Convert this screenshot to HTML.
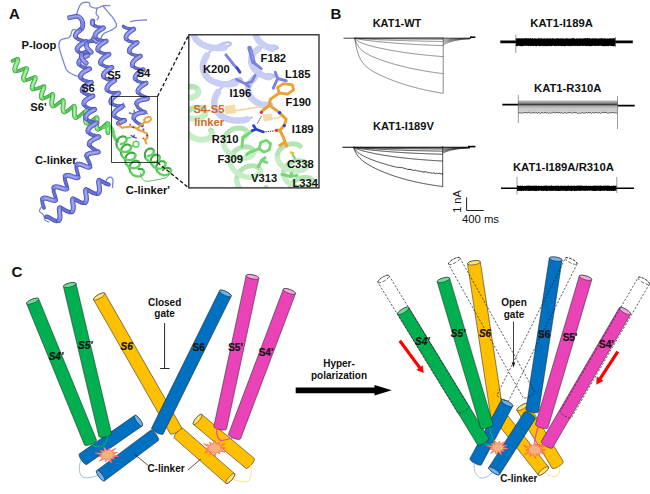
<!DOCTYPE html>
<html><head><meta charset="utf-8"><title>figure</title>
<style>html,body{margin:0;padding:0;background:#fff;}svg{display:block;}</style></head><body>
<svg width="650" height="494" viewBox="0 0 650 494">
<rect x="0" y="0" width="650" height="494" fill="#fff"/>
<!-- PANEL A -->
<g id="panelA">
<text x="8.9" y="19.4" font-size="15" font-weight="bold" text-anchor="start" fill="#111" style="font-family:'Liberation Sans',sans-serif;">A</text>
<g fill="none" stroke-linecap="round" stroke-linejoin="round">
<path d="M12.33,60.84 L14.2,60.09 L15.81,59.5 L17,59.25 L17.67,59.46 L17.67,59.46 M15.25,70.76 L16.3,71.11 L17.81,70.97 L19.63,70.44 L21.56,69.72 L23.38,68.99 L24.9,68.46 L25.96,68.31 L26.49,68.65 L26.49,68.65 M24.28,79.95 L25.45,80.16 L27.04,79.89 L28.91,79.3 L30.83,78.55 L32.6,77.87 L34.03,77.44 L34.97,77.43 L35.23,77.6 M32.69,88.88 L33.74,89.25 L35.26,89.12 L37.09,88.61 L39.02,87.88 L40.84,87.15 L42.35,86.61 L43.4,86.44 L43.92,86.76 L43.92,86.76 M42.15,98.16 L43.38,98.31 L44.99,97.94 L46.81,97.16 L48.63,96.18 L50.27,95.23 L51.57,94.55 L52.43,94.32 L52.7,94.42 M52.91,105.95 L54.06,106.01 L55.49,105.45 L57.09,104.42 L58.72,103.15 L60.23,101.89 L61.5,100.91 L62.45,100.43 L63.05,100.58 L63.05,100.58 M64.43,112.02 L65.64,111.87 L67.1,111.14 L68.69,109.98 L70.26,108.64 L71.69,107.39 L72.86,106.49 L73.72,106.13 L74.02,106.2 M75.71,117.61 L76.81,117.56 L78.17,116.89 L79.68,115.76 L81.24,114.41 L82.7,113.09 L83.95,112.08 L84.92,111.59 L85.55,111.74 L85.55,111.74 M86.96,123.19 L88.14,123.05 L89.59,122.33 L91.2,121.22 L92.82,119.94 L94.31,118.77 L95.54,117.94 L96.43,117.64 L96.73,117.72 M97.8,129.25 L98.93,129.26 L100.33,128.65 L101.89,127.57 L103.48,126.26 L104.96,124.97 L106.22,123.96 L107.16,123.46 L107.76,123.6 L107.76,123.6" stroke="#3fa33f" stroke-width="3.6"/>
<path d="M12.33,60.84 L14.2,60.09 L15.81,59.5 L17,59.25 L17.67,59.46 L17.67,59.46 M15.25,70.76 L16.3,71.11 L17.81,70.97 L19.63,70.44 L21.56,69.72 L23.38,68.99 L24.9,68.46 L25.96,68.31 L26.49,68.65 L26.49,68.65 M24.28,79.95 L25.45,80.16 L27.04,79.89 L28.91,79.3 L30.83,78.55 L32.6,77.87 L34.03,77.44 L34.97,77.43 L35.23,77.6 M32.69,88.88 L33.74,89.25 L35.26,89.12 L37.09,88.61 L39.02,87.88 L40.84,87.15 L42.35,86.61 L43.4,86.44 L43.92,86.76 L43.92,86.76 M42.15,98.16 L43.38,98.31 L44.99,97.94 L46.81,97.16 L48.63,96.18 L50.27,95.23 L51.57,94.55 L52.43,94.32 L52.7,94.42 M52.91,105.95 L54.06,106.01 L55.49,105.45 L57.09,104.42 L58.72,103.15 L60.23,101.89 L61.5,100.91 L62.45,100.43 L63.05,100.58 L63.05,100.58 M64.43,112.02 L65.64,111.87 L67.1,111.14 L68.69,109.98 L70.26,108.64 L71.69,107.39 L72.86,106.49 L73.72,106.13 L74.02,106.2 M75.71,117.61 L76.81,117.56 L78.17,116.89 L79.68,115.76 L81.24,114.41 L82.7,113.09 L83.95,112.08 L84.92,111.59 L85.55,111.74 L85.55,111.74 M86.96,123.19 L88.14,123.05 L89.59,122.33 L91.2,121.22 L92.82,119.94 L94.31,118.77 L95.54,117.94 L96.43,117.64 L96.73,117.72 M97.8,129.25 L98.93,129.26 L100.33,128.65 L101.89,127.57 L103.48,126.26 L104.96,124.97 L106.22,123.96 L107.16,123.46 L107.76,123.6 L107.76,123.6" stroke="#5cc85c" stroke-width="1.98"/>
<path d="M17.67,59.46 L17.79,60.2 L17.44,61.44 L16.76,63.07 L15.94,64.93 L15.2,66.82 L14.75,68.53 L14.73,69.89 L15.25,70.76 L15.25,70.76 M26.49,68.65 L26.49,69.51 L26.05,70.86 L25.32,72.57 L24.51,74.47 L23.84,76.33 L23.49,77.97 L23.62,79.22 L24.28,79.95 L24.28,79.95 M35.23,77.6 L35.35,78.35 L34.99,79.58 L34.29,81.21 L33.45,83.06 L32.68,84.94 L32.21,86.64 L32.18,88 L32.69,88.88 L32.69,88.88 M43.92,86.76 L43.92,87.61 L43.49,88.96 L42.79,90.68 L42.05,92.6 L41.45,94.5 L41.2,96.17 L41.41,97.44 L42.15,98.16 L42.15,98.16 M52.7,94.42 L52.9,95.09 L52.76,96.35 L52.42,98.07 L52.03,100.07 L51.76,102.09 L51.77,103.88 L52.14,105.22 L52.91,105.95 L52.91,105.95 M63.05,100.58 L63.32,101.4 L63.33,102.82 L63.18,104.68 L63.01,106.73 L62.94,108.71 L63.09,110.36 L63.57,111.51 L64.43,112.02 L64.43,112.02 M74.02,106.2 L74.38,106.84 L74.47,108.12 L74.4,109.88 L74.29,111.91 L74.27,113.94 L74.45,115.71 L74.92,116.98 L75.71,117.61 L75.71,117.61 M85.55,111.74 L85.86,112.58 L85.9,114 L85.76,115.86 L85.58,117.91 L85.51,119.89 L85.66,121.55 L86.13,122.69 L86.96,123.19 L86.96,123.19 M96.73,117.72 L97.06,118.39 L97.08,119.68 L96.9,121.44 L96.66,123.46 L96.52,125.48 L96.6,127.26 L97.02,128.57 L97.8,129.25 L97.8,129.25 M107.76,123.6 L108.05,124.42 L108.08,125.84 L107.97,127.69 L107.85,129.74 L107.84,131.73 L107.92,132.61" stroke="#3fa33f" stroke-width="4.8"/>
<path d="M17.67,59.46 L17.79,60.2 L17.44,61.44 L16.76,63.07 L15.94,64.93 L15.2,66.82 L14.75,68.53 L14.73,69.89 L15.25,70.76 L15.25,70.76 M26.49,68.65 L26.49,69.51 L26.05,70.86 L25.32,72.57 L24.51,74.47 L23.84,76.33 L23.49,77.97 L23.62,79.22 L24.28,79.95 L24.28,79.95 M35.23,77.6 L35.35,78.35 L34.99,79.58 L34.29,81.21 L33.45,83.06 L32.68,84.94 L32.21,86.64 L32.18,88 L32.69,88.88 L32.69,88.88 M43.92,86.76 L43.92,87.61 L43.49,88.96 L42.79,90.68 L42.05,92.6 L41.45,94.5 L41.2,96.17 L41.41,97.44 L42.15,98.16 L42.15,98.16 M52.7,94.42 L52.9,95.09 L52.76,96.35 L52.42,98.07 L52.03,100.07 L51.76,102.09 L51.77,103.88 L52.14,105.22 L52.91,105.95 L52.91,105.95 M63.05,100.58 L63.32,101.4 L63.33,102.82 L63.18,104.68 L63.01,106.73 L62.94,108.71 L63.09,110.36 L63.57,111.51 L64.43,112.02 L64.43,112.02 M74.02,106.2 L74.38,106.84 L74.47,108.12 L74.4,109.88 L74.29,111.91 L74.27,113.94 L74.45,115.71 L74.92,116.98 L75.71,117.61 L75.71,117.61 M85.55,111.74 L85.86,112.58 L85.9,114 L85.76,115.86 L85.58,117.91 L85.51,119.89 L85.66,121.55 L86.13,122.69 L86.96,123.19 L86.96,123.19 M96.73,117.72 L97.06,118.39 L97.08,119.68 L96.9,121.44 L96.66,123.46 L96.52,125.48 L96.6,127.26 L97.02,128.57 L97.8,129.25 L97.8,129.25 M107.76,123.6 L108.05,124.42 L108.08,125.84 L107.97,127.69 L107.85,129.74 L107.84,131.73 L107.92,132.61" stroke="#7ade7a" stroke-width="3.26"/>
<path d="M17.67,60.76 L17.13,62.22 L16.36,63.99 L15.55,65.89 L14.93,67.71 L14.68,69.26 L14.68,69.26 M26.31,70.13 L25.71,71.68 L24.91,73.51 L24.15,75.42 L23.61,77.19 L23.49,78.65 L23.49,78.65 M35.22,78.91 L34.67,80.35 L33.87,82.12 L33.04,84.01 L32.4,85.82 L32.13,87.38 L32.13,87.38 M43.74,88.23 L43.16,89.78 L42.41,91.63 L41.72,93.57 L41.27,95.38 L41.24,96.87 L41.24,96.87 M52.87,95.65 L52.61,97.16 L52.21,99.05 L51.87,101.09 L51.73,103.03 L51.91,104.62 L51.91,104.62 M63.36,102.05 L63.27,103.71 L63.09,105.69 L62.95,107.74 L62.98,109.59 L63.29,111.01 L63.29,111.01 M74.45,107.41 L74.45,108.95 L74.34,110.88 L74.26,112.95 L74.33,114.87 L74.64,116.41 L74.64,116.41 M85.91,113.22 L85.84,114.89 L85.67,116.88 L85.53,118.92 L85.55,120.77 L85.85,122.19 L85.85,122.19 M97.11,118.97 L97.01,120.51 L96.78,122.43 L96.57,124.49 L96.52,126.42 L96.76,127.98 L96.76,127.98 M108.05,124.42 L108.08,125.84 L107.97,127.69 L107.85,129.74 L107.83,130.76" stroke="#aef2ae" stroke-width="1.44"/>
</g>
<path d="M104,127.5 L104.88,127.02 L105.74,126.51 L106.62,126.04 L107.54,125.65 L108.52,125.45 L109.47,125.7 L110.26,126.31 L110.92,127.06 L111.48,127.88 L111.98,128.75 L112.43,129.64 L112.82,130.57 L113.07,131.53 L113.25,132.52 L113.39,133.51 L113.54,134.49 L113.72,135.48 L113.99,136.44 L114.38,137.36 L114.89,138.22 L115.47,139.03 L116.1,139.81 L116.75,140.57 L117.42,141.32" fill="none" stroke="#66d466" stroke-width="3.4" stroke-linecap="round" stroke-linejoin="round"/>
<path d="M78.3,30.8 L77.35,30.51 L76.4,30.17 L75.45,29.88 L74.47,29.69 L73.47,29.69 L72.58,30.11 L72.01,30.92 L71.65,31.86 L71.37,32.81 L71.1,33.78 L70.81,34.74 L70.45,35.67 L69.97,36.54 L69.3,37.28 L68.44,37.78 L67.49,38.11 L66.52,38.33 L65.54,38.51 L64.55,38.67 L63.56,38.85 L62.59,39.09 L61.67,39.47 L60.87,40.06 L60.18,40.79 L59.64,41.63 L59.26,42.55 L59.03,43.52 L58.92,44.52 L58.91,45.52 L58.99,46.51 L59.15,47.5 L59.37,48.47 L59.62,49.44 L59.89,50.4 L60.18,51.36 L60.48,52.32 L60.77,53.27 L61.07,54.23 L61.35,55.19 L61.64,56.14 L61.93,57.1 L62.23,58.05 L62.54,59.01 L62.85,59.96 L63.17,60.9 L63.5,61.85 L63.84,62.79 L64.18,63.73 L64.54,64.66 L64.9,65.6 L65.21,66.55 L65.51,67.5 L65.83,68.45 L66.24,69.36 L66.78,70.2 L67.43,70.96 L68.18,71.62 L68.99,72.21 L69.82,72.76 L70.68,73.27 L71.55,73.76 L72.44,74.22 L73.34,74.66 L74.25,75.07 L75.18,75.45 L76.12,75.78 L77.09,76.03 L78.08,76.1 L79.02,75.77 L79.8,75.15 L80.43,74.38 L80.99,73.55" fill="none" stroke="#7a83de" stroke-width="1.3" stroke-linecap="round" stroke-linejoin="round"/>
<path d="M76.7,16.2 L76.78,15.2 L76.85,14.21 L76.98,13.22 L77.2,12.24 L77.5,11.29 L77.85,10.35 L78.2,9.41 L78.56,8.48 L78.94,7.56 L79.35,6.64 L79.8,5.75 L80.31,4.89 L80.9,4.09 L81.62,3.39 L82.48,2.89 L83.43,2.57 L84.41,2.37 L85.4,2.26 L86.4,2.24 L87.4,2.3 L88.39,2.46 L89.3,2.84 L89.69,3.74 L89.77,4.73 L89.93,5.72 L90.51,6.51 L91.39,6.99 L92.32,7.35 L93.27,7.65 L94.25,7.87 L95.24,8.03 L96.23,8.11 L97.23,8.08 L98.21,7.86 L99.14,7.5 L100.04,7.08 L100.94,6.63 L101.84,6.2 L102.78,5.85 L103.75,5.64 L104.75,5.55 L105.75,5.52 L106.75,5.54 L107.75,5.58 L108.75,5.64 L109.75,5.69" fill="none" stroke="#7a83de" stroke-width="1.3" stroke-linecap="round" stroke-linejoin="round"/>
<path d="M97,8.1 L96.8,9.08 L96.59,10.06 L96.4,11.04 L96.24,12.03 L96.15,13.02 L96.25,14.01 L96.75,14.87 L97.46,15.58 L98.19,16.26 L98.61,17.14 L98.32,18.09 L97.79,18.93 L97.18,19.73" fill="none" stroke="#7a83de" stroke-width="1.3" stroke-linecap="round" stroke-linejoin="round"/>
<path d="M103.4,6.5 L104.04,7.27 L104.69,8.03 L105.33,8.8 L105.97,9.56 L106.62,10.33 L107.25,11.1 L107.89,11.87 L108.53,12.64 L109.19,13.39 L109.84,14.15 L110.5,14.9 L111.15,15.66 L111.8,16.42 L112.43,17.2 L113.04,17.99 L113.62,18.81 L114.15,19.65 L114.66,20.51 L115.15,21.38 L115.61,22.27 L116.02,23.19 L116.32,24.14 L116.47,25.12 L116.34,26.11 L115.86,26.98 L115.15,27.69 L114.35,28.28 L113.5,28.81 L112.64,29.32 L111.78,29.83 L110.92,30.33 L110.01,30.76 L109.09,31.15 L108.16,31.52 L107.24,31.89 L106.31,32.28 L105.41,32.7 L104.53,33.18 L103.7,33.74 L102.99,34.44 L102.4,35.24 L101.91,36.11 L101.49,37.02 L101.12,37.95 L100.79,38.9 L100.46,39.84" fill="none" stroke="#7a83de" stroke-width="1.3" stroke-linecap="round" stroke-linejoin="round"/>
<path d="M67.5,18 L77,16.2 C82,17.5 84,23 82,28.5 L79,30.5" fill="none" stroke="#4d56b6" stroke-width="4.8" stroke-linecap="butt" stroke-linejoin="round"/>
<path d="M67.8,18 L77,16.2 C82,17.5 84,23 82,28.5 L79.3,30.3" fill="none" stroke="#7c85e2" stroke-width="3.1" stroke-linecap="butt" stroke-linejoin="round"/>
<path d="M69,17.4 L77,15.9 C80,16.3 82,18.5 82.8,21.5" fill="none" stroke="#9ea6f3" stroke-width="1.2" stroke-linecap="round"/>
<g fill="none" stroke-linecap="round" stroke-linejoin="round">
<path d="M75.51,36.31 L76.15,37.58 L77.37,38.69 L79.03,39.6 L80.91,40.29 L82.78,40.78 L84.41,41.09 L85.59,41.31 L86.17,41.51 L86.22,41.62 M77.16,49.74 L77.72,51.03 L78.87,52.16 L80.49,53.1 L82.35,53.81 L84.24,54.32 L85.91,54.66 L87.16,54.88 L87.82,55.08 L87.91,55.19 M78.98,63.83 L79.77,65.07 L81.12,66.13 L82.85,66.99 L84.76,67.62 L86.59,68.06 L88.13,68.35 L89.17,68.55 L89.59,68.75 L89.55,68.88 M80.61,77.26 L81.33,78.52 L82.61,79.61 L84.31,80.49 L86.21,81.15 L88.07,81.61 L89.65,81.91 L90.76,82.12 L91.26,82.32 L91.27,82.44 M82.24,90.68 L82.87,91.95 L84.09,93.07 L85.75,93.98 L87.63,94.68 L89.5,95.17 L91.13,95.49 L92.31,95.71 L92.89,95.9 L92.94,96.01 M83.88,104.14 L84.45,105.44 L85.61,106.57 L87.23,107.5 L89.11,108.2 L91,108.69 L92.68,109.01 L93.92,109.21 L94.59,109.39 L94.68,109.49 M85.98,118.35 L86.81,119.57 L88.2,120.58 L89.97,121.37 L91.89,121.94 L93.74,122.31 L95.29,122.53 L96.33,122.7 L96.76,122.88 L96.73,123.01 M88.08,131.68 L88.82,132.9 L90.13,133.95 L91.83,134.79 L93.73,135.42 L95.59,135.87 L97.16,136.18 L98.27,136.43 L98.77,136.68 L98.78,136.82 M89.25,144.3 L89.68,145.51 L90.65,146.69 L92.02,147.85 L93.63,148.96 L95.25,149.97 L96.68,150.79 L97.72,151.39 L98.2,151.78 L98.21,151.91 M86.62,155.45 L86.61,156.5 L86.99,157.77 L87.67,159.22 L88.48,160.79 L89.25,162.38 L89.86,163.9 L90.19,165.22 L90.18,166.26 L89.78,166.96 L89.78,166.96 M77.04,164.71 L76.5,165.56 L76.29,166.75 L76.38,168.2 L76.69,169.84 L77.16,171.54 L77.67,173.18 L78.1,174.68 L78.35,175.94 L78.34,176.89 L78.01,177.5 L78.01,177.5 M65.27,176.09 L64.83,176.95 L64.72,178.13 L64.9,179.56 L65.3,181.16 L65.83,182.83 L66.37,184.46 L66.83,185.96 L67.09,187.22 L67.08,188.18 L66.75,188.8 L66.75,188.8 M54,187.43 L53.55,188.28 L53.44,189.45 L53.62,190.88 L54.01,192.49 L54.53,194.16 L55.07,195.8 L55.52,197.29 L55.78,198.55 L55.77,199.52 L55.43,200.14 L55.43,200.14 M42.69,198.74 L42.24,199.6 L42.13,200.77 L42.3,202.2 L42.7,203.8 L43.22,205.47 L43.76,207.11 L44,207.88" stroke="#4d56b6" stroke-width="3.75"/>
<path d="M75.51,36.31 L76.15,37.58 L77.37,38.69 L79.03,39.6 L80.91,40.29 L82.78,40.78 L84.41,41.09 L85.59,41.31 L86.17,41.51 L86.22,41.62 M77.16,49.74 L77.72,51.03 L78.87,52.16 L80.49,53.1 L82.35,53.81 L84.24,54.32 L85.91,54.66 L87.16,54.88 L87.82,55.08 L87.91,55.19 M78.98,63.83 L79.77,65.07 L81.12,66.13 L82.85,66.99 L84.76,67.62 L86.59,68.06 L88.13,68.35 L89.17,68.55 L89.59,68.75 L89.55,68.88 M80.61,77.26 L81.33,78.52 L82.61,79.61 L84.31,80.49 L86.21,81.15 L88.07,81.61 L89.65,81.91 L90.76,82.12 L91.26,82.32 L91.27,82.44 M82.24,90.68 L82.87,91.95 L84.09,93.07 L85.75,93.98 L87.63,94.68 L89.5,95.17 L91.13,95.49 L92.31,95.71 L92.89,95.9 L92.94,96.01 M83.88,104.14 L84.45,105.44 L85.61,106.57 L87.23,107.5 L89.11,108.2 L91,108.69 L92.68,109.01 L93.92,109.21 L94.59,109.39 L94.68,109.49 M85.98,118.35 L86.81,119.57 L88.2,120.58 L89.97,121.37 L91.89,121.94 L93.74,122.31 L95.29,122.53 L96.33,122.7 L96.76,122.88 L96.73,123.01 M88.08,131.68 L88.82,132.9 L90.13,133.95 L91.83,134.79 L93.73,135.42 L95.59,135.87 L97.16,136.18 L98.27,136.43 L98.77,136.68 L98.78,136.82 M89.25,144.3 L89.68,145.51 L90.65,146.69 L92.02,147.85 L93.63,148.96 L95.25,149.97 L96.68,150.79 L97.72,151.39 L98.2,151.78 L98.21,151.91 M86.62,155.45 L86.61,156.5 L86.99,157.77 L87.67,159.22 L88.48,160.79 L89.25,162.38 L89.86,163.9 L90.19,165.22 L90.18,166.26 L89.78,166.96 L89.78,166.96 M77.04,164.71 L76.5,165.56 L76.29,166.75 L76.38,168.2 L76.69,169.84 L77.16,171.54 L77.67,173.18 L78.1,174.68 L78.35,175.94 L78.34,176.89 L78.01,177.5 L78.01,177.5 M65.27,176.09 L64.83,176.95 L64.72,178.13 L64.9,179.56 L65.3,181.16 L65.83,182.83 L66.37,184.46 L66.83,185.96 L67.09,187.22 L67.08,188.18 L66.75,188.8 L66.75,188.8 M54,187.43 L53.55,188.28 L53.44,189.45 L53.62,190.88 L54.01,192.49 L54.53,194.16 L55.07,195.8 L55.52,197.29 L55.78,198.55 L55.77,199.52 L55.43,200.14 L55.43,200.14 M42.69,198.74 L42.24,199.6 L42.13,200.77 L42.3,202.2 L42.7,203.8 L43.22,205.47 L43.76,207.11 L44,207.88" stroke="#6a73d2" stroke-width="2.06"/>
<path d="M79.81,30.47 L78.14,31.59 L76.73,32.86 L75.79,34.24 L75.44,35.63 L75.51,36.31 M86.22,41.62 L85.82,41.93 L84.83,42.39 L83.39,43.06 L81.71,43.94 L80.02,45.03 L78.57,46.29 L77.56,47.66 L77.13,49.05 L77.16,49.74 M87.91,55.19 L87.59,55.48 L86.66,55.92 L85.27,56.56 L83.61,57.41 L81.91,58.48 L80.42,59.73 L79.34,61.08 L78.83,62.48 L78.98,63.83 L78.98,63.83 M89.55,68.88 L88.99,69.22 L87.87,69.73 L86.35,70.45 L84.65,71.39 L83,72.53 L81.64,73.82 L80.76,75.2 L80.5,76.59 L80.61,77.26 M91.27,82.44 L90.79,82.76 L89.73,83.25 L88.25,83.94 L86.55,84.85 L84.88,85.97 L83.47,87.24 L82.52,88.61 L82.17,90 L82.24,90.68 M92.94,96.01 L92.53,96.32 L91.54,96.78 L90.1,97.44 L88.42,98.33 L86.74,99.42 L85.28,100.69 L84.27,102.06 L83.85,103.46 L83.88,104.14 M94.68,109.49 L94.36,109.77 L93.44,110.22 L92.06,110.88 L90.41,111.78 L88.74,112.89 L87.28,114.18 L86.24,115.58 L85.78,116.99 L85.98,118.35 L85.98,118.35 M96.73,123.01 L96.19,123.37 L95.09,123.93 L93.6,124.7 L91.93,125.7 L90.32,126.9 L89,128.23 L88.17,129.63 L87.94,131.01 L88.08,131.68 M98.78,136.82 L98.3,137.17 L97.24,137.65 L95.74,138.3 L94.02,139.14 L92.3,140.13 L90.82,141.26 L89.77,142.46 L89.27,143.69 L89.25,144.3 M98.21,151.91 L97.72,152.12 L96.64,152.3 L95.07,152.51 L93.21,152.8 L91.3,153.14 L89.54,153.53 L88.11,154.02 L87.12,154.63 L86.62,155.45 L86.62,155.45 M89.78,166.96 L89.04,167.25 L87.99,167.18 L86.68,166.8 L85.19,166.21 L83.59,165.53 L81.97,164.89 L80.42,164.39 L79.04,164.15 L77.89,164.24 L77.04,164.71 L77.04,164.71 M78.01,177.5 L77.33,177.77 L76.32,177.72 L75.01,177.42 L73.49,176.94 L71.84,176.4 L70.17,175.89 L68.59,175.53 L67.19,175.4 L66.07,175.58 L65.27,176.09 L65.27,176.09 M66.75,188.8 L66.07,189.08 L65.05,189.05 L63.74,188.75 L62.21,188.29 L60.56,187.75 L58.89,187.24 L57.31,186.88 L55.92,186.75 L54.8,186.92 L54,187.43 L54,187.43 M55.43,200.14 L54.75,200.41 L53.73,200.37 L52.43,200.07 L50.9,199.6 L49.25,199.06 L47.58,198.55 L46,198.19 L44.61,198.06 L43.49,198.23 L42.69,198.74 L42.69,198.74" stroke="#4d56b6" stroke-width="5"/>
<path d="M79.81,30.47 L78.14,31.59 L76.73,32.86 L75.79,34.24 L75.44,35.63 L75.51,36.31 M86.22,41.62 L85.82,41.93 L84.83,42.39 L83.39,43.06 L81.71,43.94 L80.02,45.03 L78.57,46.29 L77.56,47.66 L77.13,49.05 L77.16,49.74 M87.91,55.19 L87.59,55.48 L86.66,55.92 L85.27,56.56 L83.61,57.41 L81.91,58.48 L80.42,59.73 L79.34,61.08 L78.83,62.48 L78.98,63.83 L78.98,63.83 M89.55,68.88 L88.99,69.22 L87.87,69.73 L86.35,70.45 L84.65,71.39 L83,72.53 L81.64,73.82 L80.76,75.2 L80.5,76.59 L80.61,77.26 M91.27,82.44 L90.79,82.76 L89.73,83.25 L88.25,83.94 L86.55,84.85 L84.88,85.97 L83.47,87.24 L82.52,88.61 L82.17,90 L82.24,90.68 M92.94,96.01 L92.53,96.32 L91.54,96.78 L90.1,97.44 L88.42,98.33 L86.74,99.42 L85.28,100.69 L84.27,102.06 L83.85,103.46 L83.88,104.14 M94.68,109.49 L94.36,109.77 L93.44,110.22 L92.06,110.88 L90.41,111.78 L88.74,112.89 L87.28,114.18 L86.24,115.58 L85.78,116.99 L85.98,118.35 L85.98,118.35 M96.73,123.01 L96.19,123.37 L95.09,123.93 L93.6,124.7 L91.93,125.7 L90.32,126.9 L89,128.23 L88.17,129.63 L87.94,131.01 L88.08,131.68 M98.78,136.82 L98.3,137.17 L97.24,137.65 L95.74,138.3 L94.02,139.14 L92.3,140.13 L90.82,141.26 L89.77,142.46 L89.27,143.69 L89.25,144.3 M98.21,151.91 L97.72,152.12 L96.64,152.3 L95.07,152.51 L93.21,152.8 L91.3,153.14 L89.54,153.53 L88.11,154.02 L87.12,154.63 L86.62,155.45 L86.62,155.45 M89.78,166.96 L89.04,167.25 L87.99,167.18 L86.68,166.8 L85.19,166.21 L83.59,165.53 L81.97,164.89 L80.42,164.39 L79.04,164.15 L77.89,164.24 L77.04,164.71 L77.04,164.71 M78.01,177.5 L77.33,177.77 L76.32,177.72 L75.01,177.42 L73.49,176.94 L71.84,176.4 L70.17,175.89 L68.59,175.53 L67.19,175.4 L66.07,175.58 L65.27,176.09 L65.27,176.09 M66.75,188.8 L66.07,189.08 L65.05,189.05 L63.74,188.75 L62.21,188.29 L60.56,187.75 L58.89,187.24 L57.31,186.88 L55.92,186.75 L54.8,186.92 L54,187.43 L54,187.43 M55.43,200.14 L54.75,200.41 L53.73,200.37 L52.43,200.07 L50.9,199.6 L49.25,199.06 L47.58,198.55 L46,198.19 L44.61,198.06 L43.49,198.23 L42.69,198.74 L42.69,198.74" stroke="#8088e6" stroke-width="3.4"/>
<path d="M78.14,31.59 L76.73,32.86 L75.79,34.24 L75.44,35.63 L75.44,35.63 M85.39,42.13 L84.15,42.7 L82.56,43.47 L80.85,44.46 L79.25,45.65 L78,46.97 L77.56,47.66 M87.2,55.67 L86.02,56.21 L84.46,56.96 L82.75,57.92 L81.12,59.09 L79.81,60.39 L79.01,61.78 L79.01,61.78 M88.5,69.45 L87.15,70.06 L85.51,70.89 L83.8,71.93 L82.27,73.16 L81.13,74.5 L80.76,75.2 M90.32,82.98 L89.03,83.57 L87.41,84.37 L85.7,85.39 L84.13,86.59 L82.93,87.92 L82.52,88.61 M92.1,96.52 L90.87,97.08 L89.28,97.86 L87.56,98.85 L85.97,100.04 L84.71,101.36 L84.27,102.06 M93.97,109.97 L92.79,110.52 L91.25,111.3 L89.56,112.31 L87.97,113.52 L86.7,114.87 L85.93,116.29 L85.93,116.29 M95.7,123.62 L94.38,124.29 L92.77,125.18 L91.1,126.28 L89.61,127.55 L88.52,128.93 L88.17,129.63 M97.83,137.39 L96.53,137.95 L94.89,138.7 L93.14,139.62 L91.52,140.68 L90.23,141.85 L89.77,142.46 M97.25,152.21 L95.9,152.39 L94.16,152.65 L92.25,152.97 L90.39,153.33 L88.77,153.76 L87.55,154.3 L87.55,154.3 M87.99,167.18 L86.68,166.8 L85.19,166.21 L83.59,165.53 L81.97,164.89 L80.42,164.39 L79.04,164.15 L79.04,164.15 M76.32,177.72 L75.01,177.42 L73.49,176.94 L71.84,176.4 L70.17,175.89 L68.59,175.53 L67.19,175.4 L67.19,175.4 M65.05,189.05 L63.74,188.75 L62.21,188.29 L60.56,187.75 L58.89,187.24 L57.31,186.88 L55.92,186.75 L55.92,186.75 M53.73,200.37 L52.43,200.07 L50.9,199.6 L49.25,199.06 L47.58,198.55 L46,198.19 L44.61,198.06 L44.61,198.06" stroke="#a2aaf4" stroke-width="1.5"/>
</g>
<g fill="none" stroke-linecap="round" stroke-linejoin="round">
<path d="M96.34,41.42 L95.81,41.33 L94.68,41.13 L93.08,40.97 L91.24,41 L89.41,41.34 L87.85,42.06 L86.77,43.17 L86.46,43.84 M91.31,52.31 L90.79,52.23 L89.65,52.03 L88.06,51.86 L86.21,51.89 L84.38,52.24 L82.82,52.96 L81.74,54.06 L81.43,54.74 M86.29,63.21 L85.76,63.13 L85.26,63.03" stroke="#4d56b6" stroke-width="3.84"/>
<path d="M96.34,41.42 L95.81,41.33 L94.68,41.13 L93.08,40.97 L91.24,41 L89.41,41.34 L87.85,42.06 L86.77,43.17 L86.46,43.84 M91.31,52.31 L90.79,52.23 L89.65,52.03 L88.06,51.86 L86.21,51.89 L84.38,52.24 L82.82,52.96 L81.74,54.06 L81.43,54.74 M86.29,63.21 L85.76,63.13 L85.26,63.03" stroke="#6a73d2" stroke-width="2.11"/>
<path d="M93.31,38.5 L94.51,39.78 L95.57,40.7 L96.23,41.24 L96.34,41.42 L96.34,41.42 M86.46,43.84 L86.32,45.38 L86.78,47.03 L87.71,48.65 L88.88,50.07 L90.04,51.18 L90.93,51.91 L91.34,52.26 L91.31,52.31 M81.43,54.74 L81.29,56.27 L81.75,57.93 L82.68,59.54 L83.85,60.97 L85.02,62.08 L85.9,62.81 L86.31,63.16 L86.29,63.21" stroke="#4d56b6" stroke-width="4.8"/>
<path d="M93.31,38.5 L94.51,39.78 L95.57,40.7 L96.23,41.24 L96.34,41.42 L96.34,41.42 M86.46,43.84 L86.32,45.38 L86.78,47.03 L87.71,48.65 L88.88,50.07 L90.04,51.18 L90.93,51.91 L91.34,52.26 L91.31,52.31 M81.43,54.74 L81.29,56.27 L81.75,57.93 L82.68,59.54 L83.85,60.97 L85.02,62.08 L85.9,62.81 L86.31,63.16 L86.29,63.21" stroke="#8088e6" stroke-width="3.26"/>
<path d="M93.91,39.18 L95.07,40.29 L95.96,41.02 L96.37,41.37 L96.37,41.37 M86.48,46.2 L87.2,47.86 L88.28,49.39 L89.48,50.67 L90.54,51.6 L90.93,51.91 M81.45,57.1 L82.17,58.75 L83.25,60.29 L84.45,61.57 L85.51,62.49 L85.9,62.81" stroke="#a2aaf4" stroke-width="1.44"/>
</g>
<g fill="none" stroke-linecap="round" stroke-linejoin="round">
<path d="M92.55,23.82 L93.46,24.98 L94.91,25.93 L96.75,26.63 L98.72,27.09 L100.6,27.36 L102.13,27.52 L103.14,27.64 L103.5,27.81 L103.5,27.81 M95.1,36.56 L95.76,37.8 L97.03,38.83 L98.75,39.62 L100.7,40.16 L102.64,40.5 L104.33,40.69 L105.56,40.8 L106.17,40.95 L106.23,41.06 M97.9,49.96 L98.65,51.17 L99.99,52.17 L101.75,52.92 L103.72,53.43 L105.64,53.74 L107.28,53.91 L108.44,54.02 L108.97,54.17 L108.99,54.29 M100.74,63.33 L101.57,64.52 L102.97,65.49 L104.77,66.21 L106.75,66.69 L108.65,66.97 L110.24,67.12 L111.33,67.23 L111.78,67.38 L111.75,67.51 M103.68,76.76 L104.61,77.91 L106.1,78.83 L107.95,79.49 L109.95,79.9 L111.83,80.1 L113.37,80.19 L114.38,80.24 L114.75,80.37 L114.75,80.37 M107.08,89.76 L107.9,90.94 L109.28,91.82 L111.08,92.4 L113.08,92.72 L115.04,92.84 L116.73,92.87 L117.96,92.91 L118.6,93.04 L118.66,93.16 M111.02,102.66 L111.85,103.8 L113.25,104.69 L115.04,105.33 L117.02,105.72 L118.95,105.94 L120.6,106.06 L121.76,106.16 L122.3,106.33 L122.32,106.47 M113.85,115.32 L114.59,116.54 L115.91,117.59 L117.64,118.44 L119.56,119.08 L121.43,119.54 L122.99,119.85 L124.06,120.07 L124.49,120.28 L124.45,120.41" stroke="#4d56b6" stroke-width="3.5"/>
<path d="M92.55,23.82 L93.46,24.98 L94.91,25.93 L96.75,26.63 L98.72,27.09 L100.6,27.36 L102.13,27.52 L103.14,27.64 L103.5,27.81 L103.5,27.81 M95.1,36.56 L95.76,37.8 L97.03,38.83 L98.75,39.62 L100.7,40.16 L102.64,40.5 L104.33,40.69 L105.56,40.8 L106.17,40.95 L106.23,41.06 M97.9,49.96 L98.65,51.17 L99.99,52.17 L101.75,52.92 L103.72,53.43 L105.64,53.74 L107.28,53.91 L108.44,54.02 L108.97,54.17 L108.99,54.29 M100.74,63.33 L101.57,64.52 L102.97,65.49 L104.77,66.21 L106.75,66.69 L108.65,66.97 L110.24,67.12 L111.33,67.23 L111.78,67.38 L111.75,67.51 M103.68,76.76 L104.61,77.91 L106.1,78.83 L107.95,79.49 L109.95,79.9 L111.83,80.1 L113.37,80.19 L114.38,80.24 L114.75,80.37 L114.75,80.37 M107.08,89.76 L107.9,90.94 L109.28,91.82 L111.08,92.4 L113.08,92.72 L115.04,92.84 L116.73,92.87 L117.96,92.91 L118.6,93.04 L118.66,93.16 M111.02,102.66 L111.85,103.8 L113.25,104.69 L115.04,105.33 L117.02,105.72 L118.95,105.94 L120.6,106.06 L121.76,106.16 L122.3,106.33 L122.32,106.47 M113.85,115.32 L114.59,116.54 L115.91,117.59 L117.64,118.44 L119.56,119.08 L121.43,119.54 L122.99,119.85 L124.06,120.07 L124.49,120.28 L124.45,120.41" stroke="#6a73d2" stroke-width="1.93"/>
<path d="M92.71,21.05 L92.3,22.48 L92.55,23.82 L92.55,23.82 M103.5,27.81 L103.2,28.13 L102.29,28.65 L100.91,29.41 L99.29,30.42 L97.67,31.63 L96.28,33.01 L95.34,34.45 L95.01,35.88 L95.1,36.56 M106.23,41.06 L105.84,41.39 L104.86,41.94 L103.45,42.74 L101.82,43.78 L100.21,45.02 L98.87,46.42 L98.01,47.87 L97.77,49.29 L97.9,49.96 M108.99,54.29 L108.52,54.65 L107.48,55.24 L106.03,56.07 L104.39,57.13 L102.8,58.4 L101.52,59.81 L100.73,61.26 L100.56,62.67 L100.74,63.33 M111.75,67.51 L111.21,67.9 L110.11,68.51 L108.62,69.38 L106.98,70.49 L105.43,71.8 L104.21,73.23 L103.52,74.7 L103.46,76.1 L103.68,76.76 M114.75,80.37 L114.45,80.67 L113.56,81.22 L112.23,82.05 L110.67,83.17 L109.14,84.53 L107.88,86.04 L107.09,87.6 L106.92,89.08 L107.08,89.76 M118.66,93.16 L118.31,93.54 L117.38,94.17 L116.02,95.06 L114.47,96.22 L112.97,97.59 L111.74,99.07 L110.99,100.58 L110.85,102 L111.02,102.66 M122.32,106.47 L121.88,106.89 L120.86,107.52 L119.42,108.36 L117.78,109.41 L116.17,110.61 L114.84,111.93 L113.97,113.3 L113.73,114.67 L113.85,115.32 M124.45,120.41 L123.87,120.75 L122.72,121.25 L121.15,121.96 L119.4,122.9 L118.54,123.45" stroke="#4d56b6" stroke-width="5"/>
<path d="M92.71,21.05 L92.3,22.48 L92.55,23.82 L92.55,23.82 M103.5,27.81 L103.2,28.13 L102.29,28.65 L100.91,29.41 L99.29,30.42 L97.67,31.63 L96.28,33.01 L95.34,34.45 L95.01,35.88 L95.1,36.56 M106.23,41.06 L105.84,41.39 L104.86,41.94 L103.45,42.74 L101.82,43.78 L100.21,45.02 L98.87,46.42 L98.01,47.87 L97.77,49.29 L97.9,49.96 M108.99,54.29 L108.52,54.65 L107.48,55.24 L106.03,56.07 L104.39,57.13 L102.8,58.4 L101.52,59.81 L100.73,61.26 L100.56,62.67 L100.74,63.33 M111.75,67.51 L111.21,67.9 L110.11,68.51 L108.62,69.38 L106.98,70.49 L105.43,71.8 L104.21,73.23 L103.52,74.7 L103.46,76.1 L103.68,76.76 M114.75,80.37 L114.45,80.67 L113.56,81.22 L112.23,82.05 L110.67,83.17 L109.14,84.53 L107.88,86.04 L107.09,87.6 L106.92,89.08 L107.08,89.76 M118.66,93.16 L118.31,93.54 L117.38,94.17 L116.02,95.06 L114.47,96.22 L112.97,97.59 L111.74,99.07 L110.99,100.58 L110.85,102 L111.02,102.66 M122.32,106.47 L121.88,106.89 L120.86,107.52 L119.42,108.36 L117.78,109.41 L116.17,110.61 L114.84,111.93 L113.97,113.3 L113.73,114.67 L113.85,115.32 M124.45,120.41 L123.87,120.75 L122.72,121.25 L121.15,121.96 L119.4,122.9 L118.54,123.45" stroke="#8088e6" stroke-width="3.4"/>
<path d="M92.43,21.77 L92.34,23.17 L92.55,23.82 M102.81,28.36 L101.65,29 L100.12,29.88 L98.46,31 L96.93,32.3 L95.74,33.72 L95.34,34.45 M105.42,41.64 L104.2,42.31 L102.64,43.23 L100.99,44.38 L99.49,45.71 L98.37,47.14 L98.01,47.87 M108.06,54.92 L106.79,55.62 L105.21,56.57 L103.57,57.75 L102.11,59.09 L101.05,60.53 L100.73,61.26 M110.72,68.17 L109.4,68.92 L107.81,69.91 L106.18,71.13 L104.77,72.51 L103.79,73.97 L103.52,74.7 M114.07,80.91 L112.94,81.6 L111.46,82.58 L109.89,83.82 L108.46,85.27 L107.42,86.82 L107.09,87.6 M117.91,93.82 L116.74,94.58 L115.26,95.61 L113.7,96.88 L112.3,98.32 L111.3,99.83 L110.99,100.58 M121.43,107.17 L120.18,107.91 L118.61,108.86 L116.96,109.99 L115.46,111.26 L114.34,112.61 L113.97,113.3 M123.87,120.75 L122.72,121.25 L121.15,121.96 L119.4,122.9 L119.4,122.9" stroke="#a2aaf4" stroke-width="1.5"/>
</g>
<path d="M130,22 C136,19.5 142,20.5 147,20" fill="none" stroke="#7a83de" stroke-width="1.3"/>
<g fill="none" stroke-linecap="round" stroke-linejoin="round">
<path d="M123.35,26.34 L124.65,27.31 L126.36,28.02 L128.27,28.48 L130.15,28.74 L131.8,28.85 L133.01,28.92 L133.66,29.03 L133.75,29.12 M126.22,38.82 L127.13,39.95 L128.54,40.85 L130.31,41.5 L132.23,41.92 L134.07,42.15 L135.62,42.26 L136.71,42.34 L137.2,42.49 L137.21,42.61 M129.39,51.78 L130.12,52.98 L131.39,53.97 L133.07,54.73 L134.96,55.25 L136.84,55.57 L138.48,55.74 L139.69,55.86 L140.33,55.99 L140.42,56.1 M132.51,65.49 L133.37,66.66 L134.75,67.62 L136.49,68.34 L138.39,68.83 L140.23,69.13 L141.77,69.3 L142.85,69.42 L143.34,69.58 L143.35,69.7 M135.23,78.61 L135.92,79.84 L137.17,80.87 L138.83,81.67 L140.71,82.24 L142.59,82.59 L144.23,82.77 L145.44,82.87 L146.08,82.99 L146.17,83.08 M138.04,92.06 L138.73,93.19 L139.93,94.22 L141.49,95.15 L143.21,95.99 L144.88,96.72 L146.29,97.37 L147.24,97.92 L147.63,98.37 L147.59,98.55 M136.51,103.53 L136.59,104.94 L137.26,106.43 L138.42,107.89 L139.89,109.21 L141.47,110.31 L142.91,111.12 L143.99,111.67 L144.55,112.02 L144.59,112.13 M133.72,117.81 L134.08,119.22 L135,120.63 L136.36,121.94 L137.95,123.1 L139.54,124.05 L140.92,124.78 L141.87,125.29 L142.15,125.47" stroke="#4d56b6" stroke-width="3.36"/>
<path d="M123.35,26.34 L124.65,27.31 L126.36,28.02 L128.27,28.48 L130.15,28.74 L131.8,28.85 L133.01,28.92 L133.66,29.03 L133.75,29.12 M126.22,38.82 L127.13,39.95 L128.54,40.85 L130.31,41.5 L132.23,41.92 L134.07,42.15 L135.62,42.26 L136.71,42.34 L137.2,42.49 L137.21,42.61 M129.39,51.78 L130.12,52.98 L131.39,53.97 L133.07,54.73 L134.96,55.25 L136.84,55.57 L138.48,55.74 L139.69,55.86 L140.33,55.99 L140.42,56.1 M132.51,65.49 L133.37,66.66 L134.75,67.62 L136.49,68.34 L138.39,68.83 L140.23,69.13 L141.77,69.3 L142.85,69.42 L143.34,69.58 L143.35,69.7 M135.23,78.61 L135.92,79.84 L137.17,80.87 L138.83,81.67 L140.71,82.24 L142.59,82.59 L144.23,82.77 L145.44,82.87 L146.08,82.99 L146.17,83.08 M138.04,92.06 L138.73,93.19 L139.93,94.22 L141.49,95.15 L143.21,95.99 L144.88,96.72 L146.29,97.37 L147.24,97.92 L147.63,98.37 L147.59,98.55 M136.51,103.53 L136.59,104.94 L137.26,106.43 L138.42,107.89 L139.89,109.21 L141.47,110.31 L142.91,111.12 L143.99,111.67 L144.55,112.02 L144.59,112.13 M133.72,117.81 L134.08,119.22 L135,120.63 L136.36,121.94 L137.95,123.1 L139.54,124.05 L140.92,124.78 L141.87,125.29 L142.15,125.47" stroke="#6a73d2" stroke-width="1.85"/>
<path d="M133.75,29.12 L133.47,29.46 L132.64,30.01 L131.38,30.83 L129.89,31.89 L128.4,33.16 L127.12,34.57 L126.25,36.05 L125.93,37.49 L126.22,38.82 L126.22,38.82 M137.21,42.61 L136.78,42.99 L135.82,43.6 L134.47,44.46 L132.95,45.55 L131.46,46.84 L130.24,48.24 L129.47,49.7 L129.26,51.11 L129.39,51.78 M140.42,56.1 L140.13,56.42 L139.27,56.95 L137.98,57.71 L136.46,58.71 L134.91,59.92 L133.58,61.28 L132.65,62.72 L132.27,64.15 L132.51,65.49 L132.51,65.49 M143.35,69.7 L142.9,70.07 L141.91,70.64 L140.54,71.45 L138.97,72.48 L137.45,73.72 L136.18,75.09 L135.36,76.53 L135.12,77.94 L135.23,78.61 M146.17,83.08 L145.87,83.4 L145.02,83.92 L143.74,84.69 L142.22,85.7 L140.69,86.89 L139.34,88.2 L138.38,89.54 L137.92,90.84 L138.04,92.06 L138.04,92.06 M147.59,98.55 L147.03,98.84 L145.9,99.08 L144.33,99.33 L142.5,99.66 L140.61,100.13 L138.89,100.81 L137.54,101.72 L136.7,102.87 L136.51,103.53 M144.59,112.13 L144.2,112.3 L143.2,112.45 L141.72,112.65 L139.93,112.99 L138.04,113.53 L136.28,114.29 L134.88,115.28 L133.99,116.47 L133.72,117.81 L133.72,117.81" stroke="#4d56b6" stroke-width="4.8"/>
<path d="M133.75,29.12 L133.47,29.46 L132.64,30.01 L131.38,30.83 L129.89,31.89 L128.4,33.16 L127.12,34.57 L126.25,36.05 L125.93,37.49 L126.22,38.82 L126.22,38.82 M137.21,42.61 L136.78,42.99 L135.82,43.6 L134.47,44.46 L132.95,45.55 L131.46,46.84 L130.24,48.24 L129.47,49.7 L129.26,51.11 L129.39,51.78 M140.42,56.1 L140.13,56.42 L139.27,56.95 L137.98,57.71 L136.46,58.71 L134.91,59.92 L133.58,61.28 L132.65,62.72 L132.27,64.15 L132.51,65.49 L132.51,65.49 M143.35,69.7 L142.9,70.07 L141.91,70.64 L140.54,71.45 L138.97,72.48 L137.45,73.72 L136.18,75.09 L135.36,76.53 L135.12,77.94 L135.23,78.61 M146.17,83.08 L145.87,83.4 L145.02,83.92 L143.74,84.69 L142.22,85.7 L140.69,86.89 L139.34,88.2 L138.38,89.54 L137.92,90.84 L138.04,92.06 L138.04,92.06 M147.59,98.55 L147.03,98.84 L145.9,99.08 L144.33,99.33 L142.5,99.66 L140.61,100.13 L138.89,100.81 L137.54,101.72 L136.7,102.87 L136.51,103.53 M144.59,112.13 L144.2,112.3 L143.2,112.45 L141.72,112.65 L139.93,112.99 L138.04,113.53 L136.28,114.29 L134.88,115.28 L133.99,116.47 L133.72,117.81 L133.72,117.81" stroke="#8088e6" stroke-width="3.26"/>
<path d="M133.12,29.7 L132.05,30.39 L130.65,31.33 L129.13,32.5 L127.72,33.85 L126.62,35.31 L126.01,36.78 L126.01,36.78 M136.36,43.27 L135.18,44 L133.72,44.98 L132.18,46.17 L130.81,47.53 L129.79,48.97 L129.47,49.7 M139.76,56.66 L138.67,57.3 L137.24,58.18 L135.67,59.29 L134.21,60.59 L133.05,62 L132.38,63.44 L132.38,63.44 M142.47,70.32 L141.26,71.01 L139.76,71.94 L138.19,73.08 L136.77,74.4 L135.71,75.81 L135.36,76.53 M145.51,83.63 L144.42,84.28 L143,85.17 L141.44,86.28 L139.98,87.54 L138.8,88.87 L138.08,90.2 L138.08,90.2 M146.53,98.97 L145.16,99.2 L143.44,99.48 L141.55,99.87 L139.72,100.44 L138.16,101.23 L137.54,101.72 M143.77,112.37 L142.51,112.54 L140.85,112.8 L138.98,113.24 L137.13,113.88 L135.53,114.76 L134.36,115.85 L134.36,115.85" stroke="#a2aaf4" stroke-width="1.44"/>
</g>
<path d="M42,206 L41.46,206.84 L40.89,207.66 L40.35,208.5 L39.87,209.38 L39.53,210.32 L39.59,211.3 L40.17,212.11 L40.93,212.76 L41.73,213.35 L42.53,213.96 L43.24,214.65 L43.75,215.51 L44.04,216.46 L44.22,217.45 L44.39,218.43 L44.66,219.39 L45.2,220.22 L46.01,220.81 L46.91,221.24 L47.85,221.59 L48.8,221.91" fill="none" stroke="#7a83de" stroke-width="1.2" stroke-linecap="round" stroke-linejoin="round"/>
<g fill="none" stroke-linecap="round" stroke-linejoin="round">
<path d="M46.29,216.81 L46.52,216.67 M46.52,216.67 L47.19,216.67 L48.14,217.03 L49.34,217.68 L50.73,218.5 L52.24,219.37 L53.8,220.16 L55.31,220.75 L56.69,221.05 L57.87,220.97 L58.81,220.48 L58.81,220.48 M59.85,207.83 L60.52,207.84 L61.46,208.2 L62.66,208.84 L64.05,209.65 L65.57,210.51 L67.13,211.29 L68.65,211.87 L70.04,212.15 L71.23,212.05 L72.17,211.55 L72.17,211.55 M72.99,198.88 L73.65,198.88 L74.61,199.22 L75.82,199.84 L77.23,200.62 L78.76,201.45 L80.34,202.19 L81.87,202.74 L83.26,202.99 L84.44,202.88 L85.37,202.36 L85.37,202.36 M86.05,189.69 L86.73,189.67 L87.68,190.01 L88.89,190.62 L90.31,191.4 L91.84,192.23 L93.42,192.98 L94.95,193.52 L96.34,193.78 L97.52,193.66 L98.44,193.15 L98.44,193.15 M99.12,180.47 L99.79,180.46 L100.75,180.79 L101.96,181.4 L103.38,182.18 L104.91,183 L106.49,183.74 L108.02,184.29 L108.74,184.46" stroke="#4d56b6" stroke-width="4.25"/>
<path d="M46.29,216.81 L46.52,216.67 M46.52,216.67 L47.19,216.67 L48.14,217.03 L49.34,217.68 L50.73,218.5 L52.24,219.37 L53.8,220.16 L55.31,220.75 L56.69,221.05 L57.87,220.97 L58.81,220.48 L58.81,220.48 M59.85,207.83 L60.52,207.84 L61.46,208.2 L62.66,208.84 L64.05,209.65 L65.57,210.51 L67.13,211.29 L68.65,211.87 L70.04,212.15 L71.23,212.05 L72.17,211.55 L72.17,211.55 M72.99,198.88 L73.65,198.88 L74.61,199.22 L75.82,199.84 L77.23,200.62 L78.76,201.45 L80.34,202.19 L81.87,202.74 L83.26,202.99 L84.44,202.88 L85.37,202.36 L85.37,202.36 M86.05,189.69 L86.73,189.67 L87.68,190.01 L88.89,190.62 L90.31,191.4 L91.84,192.23 L93.42,192.98 L94.95,193.52 L96.34,193.78 L97.52,193.66 L98.44,193.15 L98.44,193.15 M99.12,180.47 L99.79,180.46 L100.75,180.79 L101.96,181.4 L103.38,182.18 L104.91,183 L106.49,183.74 L108.02,184.29 L108.74,184.46" stroke="#6a73d2" stroke-width="2.34"/>
<path d="M58.81,220.48 L59.47,219.59 L59.86,218.34 L60,216.81 L59.95,215.11 L59.76,213.35 L59.54,211.68 L59.36,210.2 L59.31,209.03 L59.45,208.23 L59.85,207.83 L59.85,207.83 M72.17,211.55 L72.82,210.65 L73.19,209.39 L73.31,207.86 L73.23,206.15 L73.02,204.4 L72.76,202.73 L72.55,201.26 L72.47,200.09 L72.6,199.29 L72.99,198.88 L72.99,198.88 M85.37,202.36 L86,201.45 L86.35,200.19 L86.45,198.66 L86.34,196.96 L86.11,195.21 L85.84,193.55 L85.62,192.08 L85.54,190.9 L85.66,190.1 L86.05,189.69 L86.05,189.69 M98.44,193.15 L99.08,192.24 L99.43,190.97 L99.52,189.44 L99.42,187.74 L99.19,186 L98.91,184.33 L98.69,182.86 L98.61,181.69 L98.73,180.88 L99.12,180.47 L99.12,180.47" stroke="#4d56b6" stroke-width="5"/>
<path d="M58.81,220.48 L59.47,219.59 L59.86,218.34 L60,216.81 L59.95,215.11 L59.76,213.35 L59.54,211.68 L59.36,210.2 L59.31,209.03 L59.45,208.23 L59.85,207.83 L59.85,207.83 M72.17,211.55 L72.82,210.65 L73.19,209.39 L73.31,207.86 L73.23,206.15 L73.02,204.4 L72.76,202.73 L72.55,201.26 L72.47,200.09 L72.6,199.29 L72.99,198.88 L72.99,198.88 M85.37,202.36 L86,201.45 L86.35,200.19 L86.45,198.66 L86.34,196.96 L86.11,195.21 L85.84,193.55 L85.62,192.08 L85.54,190.9 L85.66,190.1 L86.05,189.69 L86.05,189.69 M98.44,193.15 L99.08,192.24 L99.43,190.97 L99.52,189.44 L99.42,187.74 L99.19,186 L98.91,184.33 L98.69,182.86 L98.61,181.69 L98.73,180.88 L99.12,180.47 L99.12,180.47" stroke="#8088e6" stroke-width="3.4"/>
<path d="M59.86,218.34 L60,216.81 L59.95,215.11 L59.76,213.35 L59.54,211.68 L59.36,210.2 L59.31,209.03 L59.31,209.03 M73.19,209.39 L73.31,207.86 L73.23,206.15 L73.02,204.4 L72.76,202.73 L72.55,201.26 L72.47,200.09 L72.47,200.09 M86.35,200.19 L86.45,198.66 L86.34,196.96 L86.11,195.21 L85.84,193.55 L85.62,192.08 L85.54,190.9 L85.54,190.9 M99.43,190.97 L99.52,189.44 L99.42,187.74 L99.19,186 L98.91,184.33 L98.69,182.86 L98.61,181.69 L98.61,181.69" stroke="#a2aaf4" stroke-width="1.5"/>
</g>
<path d="M106,181 C108,176 112,176 113,180 L112.5,188" fill="none" stroke="#7a83de" stroke-width="1.3"/>
<g fill="none" stroke-linecap="round" stroke-linejoin="round">
<path d="M126.65,138.72 L125.23,136.86 L122.58,136.29 L119.6,137.39 L117.25,140.04 L116.34,143.68 L117.25,147.44 L117.25,147.44 M131.05,146.8 L129.63,144.94 L126.98,144.37 L124,145.47 L121.65,148.13 L120.74,151.76 L121.64,155.52 L121.64,155.52 M135.42,154.89 L133.99,153.04 L131.34,152.48 L128.34,153.58 L125.99,156.24 L125.07,159.87 L125.96,163.64 L125.96,163.64 M139.72,163.03 L138.28,161.17 L135.63,160.62 L132.63,161.72 L130.27,164.38 L129.35,168.02 L130.24,171.78 L130.24,171.78 M143.99,171.18 L142.55,169.32 L139.9,168.77 L138.38,169.11" stroke="#3fa83f" stroke-width="2.04"/>
<path d="M120.88,144.08 L124.24,143.18 L126.33,141.13 L126.65,138.72 L126.65,138.72 M117.25,147.44 L119.81,150.44 L123.39,152 L127.07,151.89 L129.89,150.33 L131.12,147.99 L131.05,146.8 M121.64,155.52 L124.19,158.52 L127.78,160.09 L131.45,159.98 L134.26,158.43 L135.49,156.08 L135.42,154.89 M125.96,163.64 L128.51,166.64 L132.09,168.22 L135.76,168.11 L138.56,166.56 L139.79,164.22 L139.72,163.03 M130.24,171.78 L132.79,174.79 L136.37,176.36 L140.04,176.26 L142.84,174.71 L144.06,172.37 L143.99,171.18" stroke="#62d062" stroke-width="2.4"/>
</g>
<g fill="none" stroke-linecap="round" stroke-linejoin="round">
<path d="M153.76,150.33 L152.1,148.62 L149.32,148.46 L146.53,150.09 L144.84,153.17 L145,156.86 L145.85,158.61 M159.88,157.11 L158.62,155.12 L156.01,154.53 L153.1,155.74 L151.04,158.54 L150.67,162.19 L151.25,164.02 M165.45,162.94 L163.75,161.27 L160.92,161.15 L158.09,162.82 L156.35,165.94 L156.46,169.68 L157.28,171.45 M171.07,170.16 L169.77,168.21 L167.13,167.66 L164.18,168.9 L162.96,170.15" stroke="#3fa83f" stroke-width="2.04"/>
<path d="M147.79,156.21 L151.4,155.12 L153.56,152.84 L153.76,150.33 L153.76,150.33 M145.85,158.61 L148.81,161.31 L152.77,162.39 L156.59,161.7 L159.18,159.65 L159.88,157.11 L159.88,157.11 M151.25,164.02 L153.8,167.05 L157.58,168.61 L161.51,168.37 L164.47,166.62 L165.63,164.14 L165.45,162.94 M157.28,171.45 L160.2,174.19 L164.11,175.32 L167.88,174.67 L170.42,172.66 L171.07,170.16 L171.07,170.16" stroke="#62d062" stroke-width="2.4"/>
</g>
<path d="M140.5,173 L140.72,173.98 L140.92,174.95 L141.16,175.93 L141.46,176.88 L141.87,177.79 L142.41,178.63 L142.97,179.46 L143.64,180.2 L144.46,180.76 L145.4,181.09 L146.39,181.23 L147.39,181.24 L148.39,181.18 L149.38,181.07 L150.37,180.94 L151.36,180.78 L152.35,180.61 L153.33,180.43 L154.31,180.25 L155.3,180.06 L156.28,179.88 L157.26,179.7 L158.25,179.52 L159.23,179.34 L160.21,179.16 L161.2,178.96 L162.17,178.76 L163.15,178.53 L164.11,178.27 L165.07,177.97 L166,177.6 L166.86,177.11 L167.63,176.47 L168.29,175.72 L168.86,174.9 L169.43,174.08" fill="none" stroke="#4fbd4f" stroke-width="1.0" stroke-linecap="round" stroke-linejoin="round"/>
<path d="M123.2,103.4 L125,107 M129.3,113 L134.2,114.3 L134.2,110.6 M143.9,111.9 L147.5,113.7" fill="none" stroke="#6a74d4" stroke-width="1.5" stroke-linecap="round" stroke-linejoin="round"/>
<path d="M119,125.2 L122,127.7 L126.9,127 L130.5,126.5 L135.4,127.7 L138.4,130 M145,122.2 L140.2,125.2 L137.8,128.9 M138.4,130 L142.7,131.3 L146.9,133.7 L147.5,137.4 L145,139.8 L146.3,143.5" fill="none" stroke="#f0a030" stroke-width="2.1" stroke-linejoin="round" stroke-linecap="round"/>
<ellipse cx="147.6" cy="119.6" rx="3.6" ry="2.4" transform="rotate(-28 147.6 119.6)" fill="none" stroke="#f0a030" stroke-width="1.8"/>
<circle cx="119.4" cy="123.6" r="0.9" fill="#e33"/><circle cx="130.2" cy="124.6" r="0.9" fill="#e33"/><circle cx="143.4" cy="138.4" r="0.9" fill="#e33"/><circle cx="133.4" cy="127.3" r="1" fill="#33c"/><circle cx="147.2" cy="135.6" r="1" fill="#33c"/><circle cx="143.5" cy="129.6" r="1" fill="#33c"/>
<path d="M131.2,135.6 L133.8,137.2 L136.4,138 M133.8,137.2 L134.2,135" stroke="#2a35c8" stroke-width="1.2" fill="none" stroke-linecap="round"/>
<path d="M127,138 L131,137.6" stroke="#5fd35f" stroke-width="1.5" fill="none" stroke-linecap="round"/>
<circle cx="136" cy="144.2" r="2.9" fill="none" stroke="#5fd35f" stroke-width="1.5"/>
<path d="M133.2,145.4 L130,147.5" stroke="#5fd35f" stroke-width="1.5" fill="none"/>
<rect x="111.6" y="96.5" width="45.9" height="66" fill="none" stroke="#111" stroke-width="0.8"/>
<path d="M157.5,96.5 L188.8,34.8 M157.5,162.5 L188.8,187.9" stroke="#111" stroke-width="1.3" stroke-dasharray="3.6 2.2" fill="none"/>
<text x="21.5" y="49.2" font-size="11.2" font-weight="bold" text-anchor="start" fill="#111" style="font-family:'Liberation Sans',sans-serif;">P-loop</text>
<text x="88" y="92.3" font-size="11.2" font-weight="bold" text-anchor="middle" fill="#111" style="font-family:'Liberation Sans',sans-serif;">S6</text>
<text x="114" y="79.3" font-size="11.2" font-weight="bold" text-anchor="middle" fill="#111" style="font-family:'Liberation Sans',sans-serif;">S5</text>
<text x="143.5" y="77" font-size="11.2" font-weight="bold" text-anchor="middle" fill="#111" style="font-family:'Liberation Sans',sans-serif;">S4</text>
<text x="38.5" y="110.8" font-size="11.2" font-weight="bold" text-anchor="middle" fill="#111" style="font-family:'Liberation Sans',sans-serif;">S6'</text>
<text x="55.8" y="163.5" font-size="11.2" font-weight="bold" text-anchor="middle" fill="#111" style="font-family:'Liberation Sans',sans-serif;">C-linker</text>
<text x="147.8" y="194" font-size="11.2" font-weight="bold" text-anchor="middle" fill="#111" style="font-family:'Liberation Sans',sans-serif;">C-linker'</text>
<clipPath id="insclip"><rect x="188.8" y="34.8" width="130.2" height="153.1"/></clipPath>
<g clip-path="url(#insclip)">
<g fill="none" stroke-linecap="round" stroke-linejoin="round">
<path d="M219.3,5.94 L218.06,6 L216.62,6.22 L215,6.59 L213.22,7.12 L211.33,7.83 L209.37,8.7 L207.36,9.75 L205.34,10.97 L203.37,12.35 L201.47,13.88 L199.68,15.55 L198.04,17.34 L197.28,18.28 M224.52,47.33 L226.2,46.88 L227.65,46.36 L228.85,45.79 L229.78,45.19 L230.43,44.61 L230.79,44.04 L230.85,43.51 L230.62,43.07 L230.1,42.71 L229.32,42.49 L228.28,42.39 L227.02,42.45 L225.56,42.69 L223.91,43.09 L222.14,43.68 L220.26,44.45 L218.31,45.42 L216.34,46.56 L214.38,47.88 L212.46,49.36 L210.64,51 L208.93,52.77 L207.39,54.67 L206.68,55.65 M235.55,83.15 L237.2,82.64 L238.62,82.07 L239.79,81.47 L240.69,80.87 L241.31,80.29 L241.65,79.74 L241.71,79.27 L241.48,78.87 L240.97,78.58 L240.2,78.41 L239.18,78.38 L237.93,78.49 L236.49,78.78 L234.88,79.23 L233.13,79.87 L231.28,80.69 L229.37,81.69 L227.43,82.87 L225.5,84.21 L223.61,85.72 L221.82,87.37 L220.15,89.16 L218.63,91.06 L217.93,92.04 M246.87,119.43 L248.53,118.92 L249.95,118.35 L251.12,117.75 L251.6,117.44" stroke="#bcc2f0" stroke-width="2.27"/>
<path d="M197.28,18.28 L195.92,20.22 L194.78,22.24 L193.89,24.31 L193.25,26.42 L192.9,28.53 L192.83,30.63 L193.06,32.69 L193.57,34.69 L194.38,36.6 L195.46,38.42 L196.8,40.1 L198.38,41.66 L200.17,43.06 L202.15,44.29 L204.29,45.36 L206.55,46.25 L208.9,46.95 L211.29,47.48 L213.7,47.84 L216.07,48.02 L218.37,48.05 L220.57,47.94 L222.63,47.69 L224.52,47.33 L224.52,47.33 M206.68,55.65 L205.43,57.68 L204.41,59.77 L203.63,61.91 L203.13,64.05 L202.9,66.19 L202.96,68.3 L203.31,70.35 L203.95,72.31 L204.87,74.18 L206.06,75.92 L207.5,77.52 L209.18,78.98 L211.05,80.26 L213.1,81.37 L215.3,82.3 L217.6,83.05 L219.98,83.61 L222.39,84 L224.81,84.22 L227.18,84.27 L229.47,84.17 L231.66,83.94 L233.69,83.6 L235.55,83.15 L235.55,83.15 M217.93,92.04 L216.7,94.07 L215.7,96.16 L214.94,98.28 L214.45,100.42 L214.23,102.55 L214.3,104.64 L214.66,106.68 L215.3,108.63 L216.22,110.48 L217.41,112.22 L218.85,113.81 L220.52,115.26 L222.39,116.54 L224.44,117.64 L226.63,118.57 L228.93,119.32 L231.31,119.88 L233.72,120.27 L236.13,120.49 L238.5,120.54 L240.8,120.45 L242.98,120.22 L245.02,119.88 L246.87,119.43 L246.87,119.43" stroke="#c9cef5" stroke-width="6.5"/>
</g>
<g fill="none" stroke-linecap="round" stroke-linejoin="round">
<path d="M282.4,19.17 L282.05,18.68 L281.34,18.21 L280.28,17.77 L278.9,17.41 L277.24,17.15 L275.35,17.03 L273.27,17.09 L271.07,17.33 L268.8,17.79 L266.53,18.46 L264.33,19.36 L262.26,20.48 L262.26,20.48 M272.25,48.68 L273.91,48.93 L275.34,48.99 L276.49,48.87 L277.32,48.6 L277.8,48.22 L277.91,47.76 L277.65,47.26 L277.02,46.75 L276.03,46.29 L274.72,45.91 L273.11,45.64 L271.26,45.53 L269.22,45.59 L267.04,45.84 L264.79,46.31 L262.53,47 L260.33,47.92 L258.25,49.05 L258.25,49.05 M269.17,77.27 L270.79,77.42 L272.15,77.38 L273.22,77.18 L273.95,76.86 L274.32,76.45 L274.32,75.98 L273.95,75.5 L273.21,75.03 L272.13,74.63 L270.73,74.32 L269.05,74.15 L267.14,74.13 L265.07,74.31 L262.87,74.69 L260.63,75.28 L258.4,76.1 L256.25,77.15 L254.24,78.42 L254.24,78.42 M266.42,105.77 L268.1,105.88 L269.52,105.82 L270.66,105.61 L271.46,105.28 L271.9,104.87 L271.98,104.41 L271.67,103.95 L271.01,103.52 L269.99,103.15 L268.66,102.89 L267.04,102.76 L265.2,102.79 L263.18,103 L261.04,103.42 L258.84,104.03 L257.74,104.42" stroke="#bcc2f0" stroke-width="2.27"/>
<path d="M262.26,20.48 L260.37,21.81 L258.72,23.33 L257.36,25.03 L256.32,26.87 L255.63,28.83 L255.3,30.87 L255.35,32.94 L255.76,35.02 L256.53,37.06 L257.62,39.03 L259,40.88 L260.63,42.59 L262.44,44.13 L264.39,45.48 L266.41,46.62 L268.44,47.53 L270.4,48.22 L272.25,48.68 L272.25,48.68 M258.25,49.05 L256.35,50.4 L254.68,51.94 L253.3,53.65 L252.24,55.5 L251.52,57.46 L251.17,59.49 L251.2,61.57 L251.6,63.64 L252.36,65.67 L253.44,67.62 L254.82,69.46 L256.46,71.15 L258.29,72.67 L260.26,74 L262.31,75.11 L264.38,76.01 L266.39,76.68 L268.29,77.13 L269.17,77.27 M254.24,78.42 L252.44,79.89 L250.89,81.55 L249.65,83.36 L248.74,85.29 L248.2,87.31 L248.03,89.39 L248.24,91.46 L248.83,93.51 L249.76,95.5 L251.01,97.37 L252.55,99.11 L254.31,100.69 L256.26,102.07 L258.31,103.25 L260.42,104.21 L262.52,104.95 L264.54,105.47 L266.42,105.77 L266.42,105.77" stroke="#c9cef5" stroke-width="6.5"/>
</g>
<g fill="none" stroke-linecap="round" stroke-linejoin="round">
<path d="M198.45,91.51 L198.08,89.94 L197.06,88.55 L195.47,87.44 L193.4,86.72 L190.97,86.46 L188.33,86.71 L185.62,87.5 L183,88.83 L180.61,90.68 L178.6,92.97 L177.07,95.64 L176.13,98.58 L175.84,101.68 L175.95,103.25 M205.41,112.38 L205.03,110.81 L204.02,109.42 L202.43,108.31 L200.36,107.59 L197.93,107.33 L195.29,107.58 L192.58,108.37 L189.95,109.71 L187.57,111.55 L185.55,113.84 L184.03,116.51 L183.09,119.45 L182.8,122.55 L182.9,124.12 M212.37,133.25 L211.99,131.68 L210.97,130.29 L210.97,130.29" stroke="#b4e4b4" stroke-width="5.4"/>
<path d="M187.84,97.98 L190.81,97.78 L193.43,97.11 L195.59,96.05 L197.19,94.69 L198.16,93.13 L198.45,91.51 L198.45,91.51 M175.95,103.25 L176.66,106.36 L178.03,109.33 L179.99,112.03 L182.46,114.38 L185.31,116.28 L188.42,117.67 L191.63,118.54 L194.8,118.85 L197.76,118.65 L200.39,117.99 L202.55,116.92 L204.15,115.56 L205.11,114 L205.41,112.38 L205.41,112.38 M182.9,124.12 L183.62,127.23 L184.99,130.2 L186.95,132.9 L189.41,135.25 L192.27,137.15 L195.38,138.55 L198.59,139.41 L201.76,139.73 L204.72,139.53 L207.35,138.86 L209.51,137.79 L211.11,136.43 L212.07,134.87 L212.37,133.25 L212.37,133.25" stroke="#c6eec6" stroke-width="6"/>
</g>
<g fill="none" stroke-linecap="round" stroke-linejoin="round">
<path d="M247.05,133.31 L246.71,131.6 L245.57,130.08 L243.71,128.89 L241.28,128.16 L238.43,127.97 L235.37,128.4 L232.31,129.45 L229.45,131.12 L226.99,133.33 L225.11,136.01 L223.93,139.02 L223.55,142.24 L223.68,143.87 M253.8,152.13 L253.46,150.42 L252.31,148.9 L250.45,147.72 L248.01,146.99 L245.16,146.81 L242.1,147.23 L239.03,148.29 L236.17,149.95 L233.7,152.17 L231.81,154.85 L230.63,157.87 L230.25,161.08 L230.37,162.72 M260.39,171.02 L260.04,169.31 L258.88,167.79 L257.02,166.61 L254.57,165.88 L251.71,165.7 L248.64,166.13 L245.57,167.19 L242.7,168.86 L240.23,171.08 L238.33,173.76 L237.14,176.78 L236.76,179.99 L236.88,181.63 M266.87,189.94 L266.52,188.23 L266.03,187.44" stroke="#b4e4b4" stroke-width="4.95"/>
<path d="M244.28,137.4 L245.99,135.89 L246.91,134.19 L247.05,133.31 M223.68,143.87 L224.56,147.09 L226.25,150.11 L228.64,152.81 L231.62,155.04 L235.01,156.73 L238.61,157.81 L242.21,158.26 L245.61,158.11 L248.61,157.4 L251.03,156.23 L252.74,154.72 L253.66,153.01 L253.8,152.13 M230.37,162.72 L231.24,165.94 L232.92,168.97 L235.31,171.66 L238.28,173.9 L241.66,175.59 L245.25,176.68 L248.84,177.13 L252.23,176.98 L255.22,176.27 L257.64,175.1 L259.34,173.6 L260.25,171.9 L260.39,171.02 M236.88,181.63 L237.75,184.85 L239.42,187.88 L241.81,190.58 L244.77,192.82 L248.15,194.51 L251.74,195.59 L255.33,196.05 L258.72,195.9 L261.71,195.19 L264.12,194.03 L265.82,192.52 L266.73,190.82 L266.87,189.94" stroke="#c6eec6" stroke-width="5.5"/>
</g>
<g fill="none" stroke-linecap="round" stroke-linejoin="round">
<path d="M300.18,146.25 L298.45,144.9 L295.92,143.99 L292.83,143.67 L289.42,144.01 L285.99,145.05 L282.81,146.77 L280.17,149.08 L278.28,151.88 L277.31,154.99 L277.36,158.24 L277.36,158.24 M307.12,165.7 L306.84,163.98 L305.56,162.45 L303.41,161.3 L300.57,160.67 L297.29,160.67 L293.84,161.36 L290.5,162.74 L287.57,164.77 L285.28,167.34 L283.84,170.31 L283.39,173.52 L283.54,175.15 M313.38,182.58 L313.11,180.85 L311.84,179.32 L309.69,178.17 L306.86,177.54 L303.58,177.54 L300.14,178.22 L296.81,179.6 L293.88,181.63 L291.6,184.2 L290.16,187.17 L289.71,190.37 L289.87,192" stroke="#b4e4b4" stroke-width="4.95"/>
<path d="M277.36,158.24 L278.45,161.44 L280.51,164.39 L283.4,166.93 L286.92,168.91 L290.82,170.24 L294.82,170.88 L298.63,170.84 L301.97,170.17 L304.61,168.98 L306.37,167.43 L307.12,165.7 L307.12,165.7 M283.54,175.15 L284.64,178.34 L286.7,181.29 L289.6,183.83 L293.13,185.81 L297.04,187.14 L301.04,187.77 L304.86,187.72 L308.21,187.05 L310.86,185.86 L312.62,184.31 L313.38,182.58 L313.38,182.58 M289.87,192 L290.96,195.2 L293.03,198.14 L295.93,200.68 L299.46,202.66 L303.37,203.98 L307.38,204.62 L307.38,204.62" stroke="#c6eec6" stroke-width="5.5"/>
</g>
<path d="M224.5,106 L235,104.5 L236,113 L225.5,114.5 Z" fill="#f8d9a8"/>
<path d="M235.5,110.5 C244,110 252,108 260.5,106.5" fill="none" stroke="#f3cf9c" stroke-width="1.4"/>
<path d="M262.5,114.5 L271.5,113.5 L272.5,120 L264,121.5 Z" fill="#f8d9a8"/>
<path d="M272,118 C276,119 279,118 281,116" fill="none" stroke="#f3cf9c" stroke-width="1.2"/>
<path d="M225.9,54.8 L230.2,60.2 L233.5,64.5 L236.7,67.7" fill="none" stroke="#7a84dc" stroke-width="2.9" stroke-linecap="round" stroke-linejoin="round"/>
<path d="M236.7,67.7 L239.9,72.2" fill="none" stroke="#3d46d0" stroke-width="2.9" stroke-linecap="round" stroke-linejoin="round"/>
<path d="M249.6,48 L253.4,62" fill="none" stroke="#7a84dc" stroke-width="4.6" stroke-linecap="round" stroke-linejoin="round"/>
<path d="M250.6,50 L253.2,60" fill="none" stroke="#9aa2ee" stroke-width="1.0" stroke-linecap="round" stroke-linejoin="round"/>
<path d="M253.6,62.5 L261.2,68.6" fill="none" stroke="#7a84dc" stroke-width="2.9" stroke-linecap="round" stroke-linejoin="round"/>
<path d="M236.7,79.5 L245.3,83.8 L251.8,81.7 L255,75.4 M245.3,83.8 L249,86.5" fill="none" stroke="#7a84dc" stroke-width="2.9" stroke-linecap="round" stroke-linejoin="round"/>
<path d="M273.3,88.2 L277.6,78.5 L286.2,80.8 M277.6,78.5 L275.3,72.2" fill="none" stroke="#7a84dc" stroke-width="3.0" stroke-linecap="round" stroke-linejoin="round"/>
<path d="M277.6,87.4 L283.5,83.6 L292.4,84.8 L293.6,89.8 L287.5,94.1 L279.2,93 Z" fill="none" stroke="#eda12e" stroke-width="2.8" stroke-linecap="round" stroke-linejoin="round"/>
<path d="M279.2,93 L270.3,99.4 L269.5,105.2 L262,111.0 M269.5,105.2 L279.8,112.9 L286.2,119.4 L284.1,125.8 L279.8,130.2 L277,130.2 M279.8,130.2 L283,136.6 L285.2,142 L279.8,145.2 M285.2,142 L286.5,146" fill="none" stroke="#eda12e" stroke-width="3.0" stroke-linecap="round" stroke-linejoin="round"/>
<circle cx="261.3" cy="112.3" r="1.6" fill="#e8352a"/>
<circle cx="276.3" cy="130.3" r="1.6" fill="#e8352a"/>
<circle cx="279.6" cy="112.8" r="1.7" fill="#3340d8"/>
<circle cx="284.3" cy="125.6" r="1.7" fill="#3340d8"/>
<path d="M242.1,146.3 L242.7,137.7 L249.6,132.8 L253.5,130.2" fill="none" stroke="#72d872" stroke-width="3.0" stroke-linecap="round" stroke-linejoin="round"/>
<path d="M253.5,125.6 L256,129.2 L263.4,131.9 M256,129.2 L252.2,130.6" fill="none" stroke="#2f3bd6" stroke-width="2.7" stroke-linecap="round" stroke-linejoin="round"/>
<path d="M257.4,123.5 L261.3,116.2 M265.3,131.9 L274.5,130.8" stroke="#111" stroke-width="0.9" stroke-dasharray="1.3 1" fill="none"/>
<path d="M259.2,148.6 L260.6,142.6 L266.2,140.2 L270.6,143.6 L269.4,149.8 L263.8,152.2 Z" fill="none" stroke="#72d872" stroke-width="2.7" stroke-linecap="round" stroke-linejoin="round"/>
<path d="M259.2,148.6 L248.5,152.8 L246.6,154.6" fill="none" stroke="#72d872" stroke-width="2.9" stroke-linecap="round" stroke-linejoin="round"/>
<path d="M258.2,166.8 L261.5,160.3 L265.1,157.7 M261.5,160.3 L266.8,162.5" fill="none" stroke="#72d872" stroke-width="2.9" stroke-linecap="round" stroke-linejoin="round"/>
<path d="M292.7,155 L294.8,158.2" fill="none" stroke="#72d872" stroke-width="2.2" stroke-linecap="round" stroke-linejoin="round"/>
<path d="M290.6,152.4 L293.4,153.4" fill="none" stroke="#e2c62a" stroke-width="2.2" stroke-linecap="round" stroke-linejoin="round"/>
<path d="M281.9,174.3 L290.5,176.5 L291.6,173.2 M290.5,176.5 L297,175.4" fill="none" stroke="#72d872" stroke-width="2.9" stroke-linecap="round" stroke-linejoin="round"/>
</g>
<rect x="188.8" y="34.8" width="130.2" height="153.1" fill="none" stroke="#222" stroke-width="1.3"/>
<text x="260.6" y="62.3" font-size="11.2" font-weight="bold" text-anchor="start" fill="#111" style="font-family:'Liberation Sans',sans-serif;">F182</text>
<text x="203" y="73.1" font-size="11.2" font-weight="bold" text-anchor="start" fill="#111" style="font-family:'Liberation Sans',sans-serif;">K200</text>
<text x="285" y="77.8" font-size="11.2" font-weight="bold" text-anchor="start" fill="#111" style="font-family:'Liberation Sans',sans-serif;">L185</text>
<text x="229.4" y="97.2" font-size="11.2" font-weight="bold" text-anchor="start" fill="#111" style="font-family:'Liberation Sans',sans-serif;">I196</text>
<text x="285.6" y="105.8" font-size="11.2" font-weight="bold" text-anchor="start" fill="#111" style="font-family:'Liberation Sans',sans-serif;">F190</text>
<text x="291.8" y="133.2" font-size="11.2" font-weight="bold" text-anchor="start" fill="#111" style="font-family:'Liberation Sans',sans-serif;">I189</text>
<text x="211.7" y="142.6" font-size="11.2" font-weight="bold" text-anchor="start" fill="#111" style="font-family:'Liberation Sans',sans-serif;">R310</text>
<text x="217.5" y="162.5" font-size="11.2" font-weight="bold" text-anchor="start" fill="#111" style="font-family:'Liberation Sans',sans-serif;">F309</text>
<text x="251.1" y="181.8" font-size="11.2" font-weight="bold" text-anchor="start" fill="#111" style="font-family:'Liberation Sans',sans-serif;">V313</text>
<text x="287" y="167.8" font-size="11.2" font-weight="bold" text-anchor="start" fill="#111" style="font-family:'Liberation Sans',sans-serif;">C338</text>
<text x="292.5" y="186.8" font-size="11.2" font-weight="bold" text-anchor="start" fill="#111" style="font-family:'Liberation Sans',sans-serif;">L334</text>
<text x="193.4" y="113.4" font-size="11.2" font-weight="bold" text-anchor="start" fill="#d2691e" style="font-family:'Liberation Sans',sans-serif;">S4-S5</text>
<text x="194.2" y="126.3" font-size="11.2" font-weight="bold" text-anchor="start" fill="#d2691e" style="font-family:'Liberation Sans',sans-serif;">linker</text>
</g>
<!-- PANEL B -->
<g id="panelB">
<text x="330.5" y="19.3" font-size="15" font-weight="bold" text-anchor="start" fill="#111" style="font-family:'Liberation Sans',sans-serif;">B</text>
<text x="397" y="26.6" font-size="11" font-weight="bold" text-anchor="middle" fill="#111" style="font-family:'Liberation Sans',sans-serif;">KAT1-WT</text>
<path d="M343.5,38.2 H471" stroke="#2a2a2a" stroke-width="0.9" fill="none"/>
<path d="M470,37.2 H475.3" stroke="#000" stroke-width="1.6" fill="none"/>
<path d="M354.6,38.2 L355.1,41.15 L355.6,43.78 L356.1,46.15 L356.6,48.28 L357.1,50.19 L357.6,51.92 L358.1,53.48 L358.6,54.89 L359.11,56.18 L359.61,57.35 L360.11,58.42 L360.61,59.4 L361.11,60.3 L361.61,61.12 L362.11,61.89 L362.61,62.6 L363.11,63.26 L363.61,63.88 L364.11,64.46 L364.61,65.01 L365.11,65.52 L365.61,66.01 L366.11,66.47 L366.61,66.91 L367.11,67.33 L367.61,67.74 L368.12,68.12 L368.62,68.5 L369.12,68.86 L369.62,69.21 L370.12,69.54 L370.62,69.87 L371.12,70.19 L371.62,70.51 L372.12,70.81 L372.62,71.11 L373.12,71.41 L373.62,71.69 L374.12,71.98 L374.62,72.25 L375.12,72.53 L375.62,72.8 L376.12,73.06 L376.62,73.32 L377.13,73.58 L377.63,73.83 L378.13,74.09 L378.63,74.34 L379.13,74.58 L379.63,74.82 L380.13,75.06 L380.63,75.3 L381.13,75.54 L381.63,75.77 L382.13,76 L382.63,76.23 L383.13,76.46 L383.63,76.68 L384.13,76.9 L384.63,77.12 L385.13,77.34 L385.64,77.56 L386.14,77.77 L386.64,77.98 L387.14,78.19 L387.64,78.4 L388.14,78.61 L388.64,78.81 L389.14,79.02 L389.64,79.22 L390.14,79.42 L390.64,79.61 L391.14,79.81 L391.64,80.01 L392.14,80.2 L392.64,80.39 L393.14,80.58 L393.64,80.77 L394.14,80.95 L394.65,81.14 L395.15,81.32 L395.65,81.5 L396.15,81.68 L396.65,81.86 L397.15,82.04 L397.65,82.22 L398.15,82.39 L398.65,82.56 L399.15,82.74 L399.65,82.91 L400.15,83.07 L400.65,83.24 L401.15,83.41 L401.65,83.57 L402.15,83.73 L402.65,83.9 L403.15,84.06 L403.66,84.22 L404.16,84.37 L404.66,84.53 L405.16,84.68 L405.66,84.84 L406.16,84.99 L406.66,85.14 L407.16,85.29 L407.66,85.44 L408.16,85.59 L408.66,85.74 L409.16,85.88 L409.66,86.02 L410.16,86.17 L410.66,86.31 L411.16,86.45 L411.66,86.59 L412.16,86.73 L412.67,86.86 L413.17,87 L413.67,87.13 L414.17,87.27 L414.67,87.4 L415.17,87.53 L415.67,87.66 L416.17,87.79 L416.67,87.92 L417.17,88.04 L417.67,88.17 L418.17,88.3 L418.67,88.42 L419.17,88.54 L419.67,88.66 L420.17,88.78 L420.67,88.9 L421.18,89.02 L421.68,89.14 L422.18,89.26 L422.68,89.37 L423.18,89.49 L423.68,89.6 L424.18,89.72 L424.68,89.83 L425.18,89.94 L425.68,90.05 L426.18,90.16 L426.68,90.27 L427.18,90.37 L427.68,90.48 L428.18,90.59 L428.68,90.69 L429.18,90.79 L429.68,90.9 L430.19,91 L430.69,91.1 L431.19,91.2 L431.69,91.3 L432.19,91.4 L432.69,91.5 L433.19,91.6 L433.69,91.69 L434.19,91.79 L434.69,91.88 L435.19,91.98 L435.69,92.07 L436.19,92.16 L436.69,92.25 L437.19,92.34 L437.69,92.43 L438.19,92.52 L438.69,92.61 L439.2,92.7 L439.7,92.79 L440.2,92.87 L440.7,92.96 L441.2,93.05 L441.7,93.13 L442.2,93.21 L442.7,93.3 L443.2,93.38" fill="none" stroke="#2a2a2a" stroke-width="0.55"/>
<path d="M354.6,38.2 L355.1,39.65 L355.6,40.96 L356.1,42.15 L356.6,43.22 L357.1,44.2 L357.6,45.09 L358.1,45.91 L358.6,46.66 L359.11,47.34 L359.61,47.98 L360.11,48.57 L360.61,49.12 L361.11,49.63 L361.61,50.1 L362.11,50.55 L362.61,50.97 L363.11,51.37 L363.61,51.75 L364.11,52.11 L364.61,52.45 L365.11,52.78 L365.61,53.1 L366.11,53.4 L366.61,53.69 L367.11,53.97 L367.61,54.25 L368.12,54.51 L368.62,54.77 L369.12,55.03 L369.62,55.27 L370.12,55.51 L370.62,55.75 L371.12,55.98 L371.62,56.21 L372.12,56.43 L372.62,56.65 L373.12,56.87 L373.62,57.08 L374.12,57.29 L374.62,57.5 L375.12,57.7 L375.62,57.9 L376.12,58.1 L376.62,58.3 L377.13,58.49 L377.63,58.69 L378.13,58.88 L378.63,59.06 L379.13,59.25 L379.63,59.44 L380.13,59.62 L380.63,59.8 L381.13,59.98 L381.63,60.16 L382.13,60.33 L382.63,60.51 L383.13,60.68 L383.63,60.85 L384.13,61.02 L384.63,61.19 L385.13,61.36 L385.64,61.52 L386.14,61.69 L386.64,61.85 L387.14,62.01 L387.64,62.17 L388.14,62.33 L388.64,62.49 L389.14,62.64 L389.64,62.8 L390.14,62.95 L390.64,63.1 L391.14,63.25 L391.64,63.4 L392.14,63.55 L392.64,63.69 L393.14,63.84 L393.64,63.98 L394.14,64.13 L394.65,64.27 L395.15,64.41 L395.65,64.55 L396.15,64.69 L396.65,64.83 L397.15,64.96 L397.65,65.1 L398.15,65.23 L398.65,65.36 L399.15,65.49 L399.65,65.62 L400.15,65.75 L400.65,65.88 L401.15,66.01 L401.65,66.14 L402.15,66.26 L402.65,66.39 L403.15,66.51 L403.66,66.63 L404.16,66.75 L404.66,66.87 L405.16,66.99 L405.66,67.11 L406.16,67.23 L406.66,67.34 L407.16,67.46 L407.66,67.57 L408.16,67.68 L408.66,67.8 L409.16,67.91 L409.66,68.02 L410.16,68.13 L410.66,68.24 L411.16,68.34 L411.66,68.45 L412.16,68.56 L412.67,68.66 L413.17,68.77 L413.67,68.87 L414.17,68.97 L414.67,69.07 L415.17,69.17 L415.67,69.27 L416.17,69.37 L416.67,69.47 L417.17,69.57 L417.67,69.67 L418.17,69.76 L418.67,69.86 L419.17,69.95 L419.67,70.04 L420.17,70.14 L420.67,70.23 L421.18,70.32 L421.68,70.41 L422.18,70.5 L422.68,70.59 L423.18,70.68 L423.68,70.76 L424.18,70.85 L424.68,70.94 L425.18,71.02 L425.68,71.11 L426.18,71.19 L426.68,71.27 L427.18,71.36 L427.68,71.44 L428.18,71.52 L428.68,71.6 L429.18,71.68 L429.68,71.76 L430.19,71.84 L430.69,71.91 L431.19,71.99 L431.69,72.07 L432.19,72.14 L432.69,72.22 L433.19,72.29 L433.69,72.37 L434.19,72.44 L434.69,72.51 L435.19,72.59 L435.69,72.66 L436.19,72.73 L436.69,72.8 L437.19,72.87 L437.69,72.94 L438.19,73.01 L438.69,73.08 L439.2,73.14 L439.7,73.21 L440.2,73.28 L440.7,73.34 L441.2,73.41 L441.7,73.47 L442.2,73.54 L442.7,73.6 L443.2,73.66" fill="none" stroke="#2a2a2a" stroke-width="0.55"/>
<path d="M354.6,38.2 L355.1,38.72 L355.6,39.2 L356.1,39.63 L356.6,40.04 L357.1,40.41 L357.6,40.76 L358.1,41.09 L358.6,41.39 L359.11,41.67 L359.61,41.94 L360.11,42.2 L360.61,42.44 L361.11,42.67 L361.61,42.88 L362.11,43.09 L362.61,43.29 L363.11,43.49 L363.61,43.67 L364.11,43.85 L364.61,44.03 L365.11,44.2 L365.61,44.36 L366.11,44.52 L366.61,44.68 L367.11,44.83 L367.61,44.98 L368.12,45.13 L368.62,45.28 L369.12,45.42 L369.62,45.56 L370.12,45.7 L370.62,45.83 L371.12,45.97 L371.62,46.1 L372.12,46.23 L372.62,46.36 L373.12,46.48 L373.62,46.61 L374.12,46.73 L374.62,46.85 L375.12,46.98 L375.62,47.1 L376.12,47.22 L376.62,47.33 L377.13,47.45 L377.63,47.56 L378.13,47.68 L378.63,47.79 L379.13,47.9 L379.63,48.02 L380.13,48.13 L380.63,48.23 L381.13,48.34 L381.63,48.45 L382.13,48.56 L382.63,48.66 L383.13,48.77 L383.63,48.87 L384.13,48.97 L384.63,49.07 L385.13,49.18 L385.64,49.28 L386.14,49.37 L386.64,49.47 L387.14,49.57 L387.64,49.67 L388.14,49.76 L388.64,49.86 L389.14,49.95 L389.64,50.05 L390.14,50.14 L390.64,50.23 L391.14,50.32 L391.64,50.41 L392.14,50.5 L392.64,50.59 L393.14,50.68 L393.64,50.77 L394.14,50.85 L394.65,50.94 L395.15,51.02 L395.65,51.11 L396.15,51.19 L396.65,51.28 L397.15,51.36 L397.65,51.44 L398.15,51.52 L398.65,51.6 L399.15,51.68 L399.65,51.76 L400.15,51.84 L400.65,51.92 L401.15,51.99 L401.65,52.07 L402.15,52.15 L402.65,52.22 L403.15,52.3 L403.66,52.37 L404.16,52.44 L404.66,52.52 L405.16,52.59 L405.66,52.66 L406.16,52.73 L406.66,52.8 L407.16,52.87 L407.66,52.94 L408.16,53.01 L408.66,53.08 L409.16,53.14 L409.66,53.21 L410.16,53.28 L410.66,53.34 L411.16,53.41 L411.66,53.47 L412.16,53.54 L412.67,53.6 L413.17,53.66 L413.67,53.73 L414.17,53.79 L414.67,53.85 L415.17,53.91 L415.67,53.97 L416.17,54.03 L416.67,54.09 L417.17,54.15 L417.67,54.21 L418.17,54.27 L418.67,54.33 L419.17,54.38 L419.67,54.44 L420.17,54.5 L420.67,54.55 L421.18,54.61 L421.68,54.66 L422.18,54.72 L422.68,54.77 L423.18,54.82 L423.68,54.88 L424.18,54.93 L424.68,54.98 L425.18,55.03 L425.68,55.08 L426.18,55.13 L426.68,55.18 L427.18,55.23 L427.68,55.28 L428.18,55.33 L428.68,55.38 L429.18,55.43 L429.68,55.48 L430.19,55.53 L430.69,55.57 L431.19,55.62 L431.69,55.67 L432.19,55.71 L432.69,55.76 L433.19,55.8 L433.69,55.85 L434.19,55.89 L434.69,55.94 L435.19,55.98 L435.69,56.02 L436.19,56.07 L436.69,56.11 L437.19,56.15 L437.69,56.19 L438.19,56.23 L438.69,56.28 L439.2,56.32 L439.7,56.36 L440.2,56.4 L440.7,56.44 L441.2,56.48 L441.7,56.52 L442.2,56.56 L442.7,56.59 L443.2,56.63" fill="none" stroke="#2a2a2a" stroke-width="0.55"/>
<path d="M354.6,38.2 L355.1,38.33 L355.6,38.46 L356.1,38.58 L356.6,38.69 L357.1,38.8 L357.6,38.9 L358.1,39 L358.6,39.1 L359.11,39.19 L359.61,39.28 L360.11,39.36 L360.61,39.45 L361.11,39.53 L361.61,39.61 L362.11,39.68 L362.61,39.76 L363.11,39.83 L363.61,39.9 L364.11,39.97 L364.61,40.04 L365.11,40.11 L365.61,40.18 L366.11,40.24 L366.61,40.31 L367.11,40.37 L367.61,40.44 L368.12,40.5 L368.62,40.56 L369.12,40.62 L369.62,40.68 L370.12,40.74 L370.62,40.8 L371.12,40.86 L371.62,40.92 L372.12,40.97 L372.62,41.03 L373.12,41.09 L373.62,41.14 L374.12,41.2 L374.62,41.25 L375.12,41.3 L375.62,41.36 L376.12,41.41 L376.62,41.46 L377.13,41.52 L377.63,41.57 L378.13,41.62 L378.63,41.67 L379.13,41.72 L379.63,41.77 L380.13,41.82 L380.63,41.87 L381.13,41.92 L381.63,41.96 L382.13,42.01 L382.63,42.06 L383.13,42.11 L383.63,42.15 L384.13,42.2 L384.63,42.24 L385.13,42.29 L385.64,42.33 L386.14,42.38 L386.64,42.42 L387.14,42.47 L387.64,42.51 L388.14,42.55 L388.64,42.6 L389.14,42.64 L389.64,42.68 L390.14,42.72 L390.64,42.76 L391.14,42.8 L391.64,42.85 L392.14,42.89 L392.64,42.93 L393.14,42.97 L393.64,43.01 L394.14,43.04 L394.65,43.08 L395.15,43.12 L395.65,43.16 L396.15,43.2 L396.65,43.23 L397.15,43.27 L397.65,43.31 L398.15,43.34 L398.65,43.38 L399.15,43.42 L399.65,43.45 L400.15,43.49 L400.65,43.52 L401.15,43.56 L401.65,43.59 L402.15,43.63 L402.65,43.66 L403.15,43.69 L403.66,43.73 L404.16,43.76 L404.66,43.79 L405.16,43.82 L405.66,43.86 L406.16,43.89 L406.66,43.92 L407.16,43.95 L407.66,43.98 L408.16,44.01 L408.66,44.04 L409.16,44.07 L409.66,44.11 L410.16,44.13 L410.66,44.16 L411.16,44.19 L411.66,44.22 L412.16,44.25 L412.67,44.28 L413.17,44.31 L413.67,44.34 L414.17,44.37 L414.67,44.39 L415.17,44.42 L415.67,44.45 L416.17,44.47 L416.67,44.5 L417.17,44.53 L417.67,44.55 L418.17,44.58 L418.67,44.61 L419.17,44.63 L419.67,44.66 L420.17,44.68 L420.67,44.71 L421.18,44.73 L421.68,44.76 L422.18,44.78 L422.68,44.81 L423.18,44.83 L423.68,44.85 L424.18,44.88 L424.68,44.9 L425.18,44.92 L425.68,44.95 L426.18,44.97 L426.68,44.99 L427.18,45.02 L427.68,45.04 L428.18,45.06 L428.68,45.08 L429.18,45.1 L429.68,45.13 L430.19,45.15 L430.69,45.17 L431.19,45.19 L431.69,45.21 L432.19,45.23 L432.69,45.25 L433.19,45.27 L433.69,45.29 L434.19,45.31 L434.69,45.33 L435.19,45.35 L435.69,45.37 L436.19,45.39 L436.69,45.41 L437.19,45.43 L437.69,45.45 L438.19,45.47 L438.69,45.48 L439.2,45.5 L439.7,45.52 L440.2,45.54 L440.7,45.56 L441.2,45.57 L441.7,45.59 L442.2,45.61 L442.7,45.63 L443.2,45.64" fill="none" stroke="#2a2a2a" stroke-width="0.55"/>
<path d="M354.6,38.2 L355.1,38.26 L355.6,38.31 L356.1,38.36 L356.6,38.41 L357.1,38.46 L357.6,38.5 L358.1,38.54 L358.6,38.58 L359.11,38.62 L359.61,38.66 L360.11,38.7 L360.61,38.74 L361.11,38.77 L361.61,38.81 L362.11,38.84 L362.61,38.87 L363.11,38.91 L363.61,38.94 L364.11,38.97 L364.61,39 L365.11,39.03 L365.61,39.06 L366.11,39.09 L366.61,39.12 L367.11,39.14 L367.61,39.17 L368.12,39.2 L368.62,39.23 L369.12,39.25 L369.62,39.28 L370.12,39.31 L370.62,39.33 L371.12,39.36 L371.62,39.39 L372.12,39.41 L372.62,39.44 L373.12,39.46 L373.62,39.49 L374.12,39.51 L374.62,39.53 L375.12,39.56 L375.62,39.58 L376.12,39.6 L376.62,39.63 L377.13,39.65 L377.63,39.67 L378.13,39.7 L378.63,39.72 L379.13,39.74 L379.63,39.76 L380.13,39.79 L380.63,39.81 L381.13,39.83 L381.63,39.85 L382.13,39.87 L382.63,39.89 L383.13,39.91 L383.63,39.93 L384.13,39.95 L384.63,39.98 L385.13,40 L385.64,40.02 L386.14,40.04 L386.64,40.05 L387.14,40.07 L387.64,40.09 L388.14,40.11 L388.64,40.13 L389.14,40.15 L389.64,40.17 L390.14,40.19 L390.64,40.21 L391.14,40.22 L391.64,40.24 L392.14,40.26 L392.64,40.28 L393.14,40.3 L393.64,40.31 L394.14,40.33 L394.65,40.35 L395.15,40.36 L395.65,40.38 L396.15,40.4 L396.65,40.42 L397.15,40.43 L397.65,40.45 L398.15,40.46 L398.65,40.48 L399.15,40.5 L399.65,40.51 L400.15,40.53 L400.65,40.54 L401.15,40.56 L401.65,40.57 L402.15,40.59 L402.65,40.6 L403.15,40.62 L403.66,40.63 L404.16,40.65 L404.66,40.66 L405.16,40.68 L405.66,40.69 L406.16,40.71 L406.66,40.72 L407.16,40.73 L407.66,40.75 L408.16,40.76 L408.66,40.78 L409.16,40.79 L409.66,40.8 L410.16,40.82 L410.66,40.83 L411.16,40.84 L411.66,40.85 L412.16,40.87 L412.67,40.88 L413.17,40.89 L413.67,40.91 L414.17,40.92 L414.67,40.93 L415.17,40.94 L415.67,40.95 L416.17,40.97 L416.67,40.98 L417.17,40.99 L417.67,41 L418.17,41.01 L418.67,41.03 L419.17,41.04 L419.67,41.05 L420.17,41.06 L420.67,41.07 L421.18,41.08 L421.68,41.09 L422.18,41.1 L422.68,41.11 L423.18,41.12 L423.68,41.14 L424.18,41.15 L424.68,41.16 L425.18,41.17 L425.68,41.18 L426.18,41.19 L426.68,41.2 L427.18,41.21 L427.68,41.22 L428.18,41.23 L428.68,41.24 L429.18,41.25 L429.68,41.26 L430.19,41.27 L430.69,41.27 L431.19,41.28 L431.69,41.29 L432.19,41.3 L432.69,41.31 L433.19,41.32 L433.69,41.33 L434.19,41.34 L434.69,41.35 L435.19,41.36 L435.69,41.36 L436.19,41.37 L436.69,41.38 L437.19,41.39 L437.69,41.4 L438.19,41.41 L438.69,41.42 L439.2,41.42 L439.7,41.43 L440.2,41.44 L440.7,41.45 L441.2,41.46 L441.7,41.46 L442.2,41.47 L442.7,41.48 L443.2,41.49" fill="none" stroke="#2a2a2a" stroke-width="0.55"/>
<path d="M354.6,38.2 L355.1,38.21 L355.6,38.23 L356.1,38.24 L356.6,38.25 L357.1,38.27 L357.6,38.28 L358.1,38.29 L358.6,38.3 L359.11,38.32 L359.61,38.33 L360.11,38.34 L360.61,38.35 L361.11,38.36 L361.61,38.38 L362.11,38.39 L362.61,38.4 L363.11,38.41 L363.61,38.42 L364.11,38.43 L364.61,38.45 L365.11,38.46 L365.61,38.47 L366.11,38.48 L366.61,38.49 L367.11,38.5 L367.61,38.51 L368.12,38.52 L368.62,38.53 L369.12,38.54 L369.62,38.55 L370.12,38.56 L370.62,38.57 L371.12,38.59 L371.62,38.6 L372.12,38.61 L372.62,38.62 L373.12,38.62 L373.62,38.63 L374.12,38.64 L374.62,38.65 L375.12,38.66 L375.62,38.67 L376.12,38.68 L376.62,38.69 L377.13,38.7 L377.63,38.71 L378.13,38.72 L378.63,38.73 L379.13,38.74 L379.63,38.75 L380.13,38.75 L380.63,38.76 L381.13,38.77 L381.63,38.78 L382.13,38.79 L382.63,38.8 L383.13,38.81 L383.63,38.81 L384.13,38.82 L384.63,38.83 L385.13,38.84 L385.64,38.85 L386.14,38.85 L386.64,38.86 L387.14,38.87 L387.64,38.88 L388.14,38.89 L388.64,38.89 L389.14,38.9 L389.64,38.91 L390.14,38.92 L390.64,38.92 L391.14,38.93 L391.64,38.94 L392.14,38.94 L392.64,38.95 L393.14,38.96 L393.64,38.97 L394.14,38.97 L394.65,38.98 L395.15,38.99 L395.65,38.99 L396.15,39 L396.65,39.01 L397.15,39.01 L397.65,39.02 L398.15,39.03 L398.65,39.03 L399.15,39.04 L399.65,39.04 L400.15,39.05 L400.65,39.06 L401.15,39.06 L401.65,39.07 L402.15,39.08 L402.65,39.08 L403.15,39.09 L403.66,39.09 L404.16,39.1 L404.66,39.11 L405.16,39.11 L405.66,39.12 L406.16,39.12 L406.66,39.13 L407.16,39.13 L407.66,39.14 L408.16,39.14 L408.66,39.15 L409.16,39.16 L409.66,39.16 L410.16,39.17 L410.66,39.17 L411.16,39.18 L411.66,39.18 L412.16,39.19 L412.67,39.19 L413.17,39.2 L413.67,39.2 L414.17,39.21 L414.67,39.21 L415.17,39.22 L415.67,39.22 L416.17,39.23 L416.67,39.23 L417.17,39.24 L417.67,39.24 L418.17,39.25 L418.67,39.25 L419.17,39.25 L419.67,39.26 L420.17,39.26 L420.67,39.27 L421.18,39.27 L421.68,39.28 L422.18,39.28 L422.68,39.29 L423.18,39.29 L423.68,39.29 L424.18,39.3 L424.68,39.3 L425.18,39.31 L425.68,39.31 L426.18,39.31 L426.68,39.32 L427.18,39.32 L427.68,39.33 L428.18,39.33 L428.68,39.33 L429.18,39.34 L429.68,39.34 L430.19,39.35 L430.69,39.35 L431.19,39.35 L431.69,39.36 L432.19,39.36 L432.69,39.36 L433.19,39.37 L433.69,39.37 L434.19,39.38 L434.69,39.38 L435.19,39.38 L435.69,39.39 L436.19,39.39 L436.69,39.39 L437.19,39.4 L437.69,39.4 L438.19,39.4 L438.69,39.41 L439.2,39.41 L439.7,39.41 L440.2,39.42 L440.7,39.42 L441.2,39.42 L441.7,39.43 L442.2,39.43 L442.7,39.43 L443.2,39.43" fill="none" stroke="#2a2a2a" stroke-width="0.55"/>
<path d="M354.6,38.2 L355.1,38.2 L355.6,38.19 L356.1,38.19 L356.6,38.18 L357.1,38.18 L357.6,38.18 L358.1,38.17 L358.6,38.17 L359.11,38.16 L359.61,38.16 L360.11,38.16 L360.61,38.15 L361.11,38.15 L361.61,38.14 L362.11,38.14 L362.61,38.14 L363.11,38.13 L363.61,38.13 L364.11,38.13 L364.61,38.12 L365.11,38.12 L365.61,38.12 L366.11,38.11 L366.61,38.11 L367.11,38.11 L367.61,38.1 L368.12,38.1 L368.62,38.1 L369.12,38.09 L369.62,38.09 L370.12,38.09 L370.62,38.08 L371.12,38.08 L371.62,38.08 L372.12,38.07 L372.62,38.07 L373.12,38.07 L373.62,38.06 L374.12,38.06 L374.62,38.06 L375.12,38.06 L375.62,38.05 L376.12,38.05 L376.62,38.05 L377.13,38.04 L377.63,38.04 L378.13,38.04 L378.63,38.04 L379.13,38.03 L379.63,38.03 L380.13,38.03 L380.63,38.02 L381.13,38.02 L381.63,38.02 L382.13,38.02 L382.63,38.01 L383.13,38.01 L383.63,38.01 L384.13,38.01 L384.63,38 L385.13,38 L385.64,38 L386.14,38 L386.64,37.99 L387.14,37.99 L387.64,37.99 L388.14,37.99 L388.64,37.98 L389.14,37.98 L389.64,37.98 L390.14,37.98 L390.64,37.97 L391.14,37.97 L391.64,37.97 L392.14,37.97 L392.64,37.97 L393.14,37.96 L393.64,37.96 L394.14,37.96 L394.65,37.96 L395.15,37.95 L395.65,37.95 L396.15,37.95 L396.65,37.95 L397.15,37.95 L397.65,37.94 L398.15,37.94 L398.65,37.94 L399.15,37.94 L399.65,37.94 L400.15,37.93 L400.65,37.93 L401.15,37.93 L401.65,37.93 L402.15,37.93 L402.65,37.92 L403.15,37.92 L403.66,37.92 L404.16,37.92 L404.66,37.92 L405.16,37.92 L405.66,37.91 L406.16,37.91 L406.66,37.91 L407.16,37.91 L407.66,37.91 L408.16,37.9 L408.66,37.9 L409.16,37.9 L409.66,37.9 L410.16,37.9 L410.66,37.9 L411.16,37.89 L411.66,37.89 L412.16,37.89 L412.67,37.89 L413.17,37.89 L413.67,37.89 L414.17,37.89 L414.67,37.88 L415.17,37.88 L415.67,37.88 L416.17,37.88 L416.67,37.88 L417.17,37.88 L417.67,37.87 L418.17,37.87 L418.67,37.87 L419.17,37.87 L419.67,37.87 L420.17,37.87 L420.67,37.87 L421.18,37.86 L421.68,37.86 L422.18,37.86 L422.68,37.86 L423.18,37.86 L423.68,37.86 L424.18,37.86 L424.68,37.86 L425.18,37.85 L425.68,37.85 L426.18,37.85 L426.68,37.85 L427.18,37.85 L427.68,37.85 L428.18,37.85 L428.68,37.85 L429.18,37.84 L429.68,37.84 L430.19,37.84 L430.69,37.84 L431.19,37.84 L431.69,37.84 L432.19,37.84 L432.69,37.84 L433.19,37.83 L433.69,37.83 L434.19,37.83 L434.69,37.83 L435.19,37.83 L435.69,37.83 L436.19,37.83 L436.69,37.83 L437.19,37.83 L437.69,37.83 L438.19,37.82 L438.69,37.82 L439.2,37.82 L439.7,37.82 L440.2,37.82 L440.7,37.82 L441.2,37.82 L441.7,37.82 L442.2,37.82 L442.7,37.82 L443.2,37.81" fill="none" stroke="#2a2a2a" stroke-width="0.55"/>
<path d="M443.2,37.5 V93.2" stroke="#2a2a2a" stroke-width="0.55" fill="none"/>
<path d="M443.2,39.4 L444.32,39.29 L445.45,39.18 L446.57,39.09 L447.7,39.01 L448.82,38.93 L449.95,38.86 L451.07,38.8 L452.2,38.74 L453.32,38.69 L454.45,38.64 L455.57,38.6 L456.7,38.56 L457.82,38.53 L458.95,38.5 L460.07,38.47 L461.2,38.45 L462.32,38.42 L463.45,38.4 L464.57,38.38 L465.7,38.37 L466.82,38.35 L467.95,38.34 L469.07,38.32 L470.2,38.31" fill="none" stroke="#2a2a2a" stroke-width="0.5"/>
<path d="M443.2,40.8 L444.32,40.55 L445.45,40.33 L446.57,40.13 L447.7,39.95 L448.82,39.78 L449.95,39.63 L451.07,39.5 L452.2,39.38 L453.32,39.26 L454.45,39.16 L455.57,39.07 L456.7,38.99 L457.82,38.92 L458.95,38.85 L460.07,38.79 L461.2,38.73 L462.32,38.68 L463.45,38.64 L464.57,38.59 L465.7,38.56 L466.82,38.52 L467.95,38.49 L469.07,38.47 L470.2,38.44" fill="none" stroke="#2a2a2a" stroke-width="0.5"/>
<path d="M443.2,42.2 L444.32,41.82 L445.45,41.48 L446.57,41.17 L447.7,40.89 L448.82,40.64 L449.95,40.41 L451.07,40.2 L452.2,40.01 L453.32,39.84 L454.45,39.68 L455.57,39.54 L456.7,39.42 L457.82,39.3 L458.95,39.2 L460.07,39.1 L461.2,39.02 L462.32,38.94 L463.45,38.87 L464.57,38.81 L465.7,38.75 L466.82,38.7 L467.95,38.65 L469.07,38.61 L470.2,38.57" fill="none" stroke="#2a2a2a" stroke-width="0.5"/>
<path d="M443.2,43.6 L444.32,43.09 L445.45,42.63 L446.57,42.21 L447.7,41.83 L448.82,41.49 L449.95,41.18 L451.07,40.9 L452.2,40.64 L453.32,40.41 L454.45,40.2 L455.57,40.01 L456.7,39.84 L457.82,39.69 L458.95,39.55 L460.07,39.42 L461.2,39.3 L462.32,39.2 L463.45,39.11 L464.57,39.02 L465.7,38.94 L466.82,38.87 L467.95,38.81 L469.07,38.75 L470.2,38.7" fill="none" stroke="#2a2a2a" stroke-width="0.5"/>
<path d="M443.2,45 L444.32,44.36 L445.45,43.78 L446.57,43.25 L447.7,42.77 L448.82,42.34 L449.95,41.95 L451.07,41.6 L452.2,41.27 L453.32,40.98 L454.45,40.72 L455.57,40.48 L456.7,40.27 L457.82,40.07 L458.95,39.9 L460.07,39.74 L461.2,39.59 L462.32,39.46 L463.45,39.34 L464.57,39.23 L465.7,39.14 L466.82,39.05 L467.95,38.97 L469.07,38.89 L470.2,38.83" fill="none" stroke="#2a2a2a" stroke-width="0.5"/>
<text x="403.4" y="129.8" font-size="11.1" font-weight="bold" text-anchor="middle" fill="#111" style="font-family:'Liberation Sans',sans-serif;">KAT1-I189V</text>
<path d="M342.5,147.2 H470" stroke="#000" stroke-width="1.1" fill="none"/>
<path d="M468,146.6 H475.4" stroke="#000" stroke-width="1.6" fill="none"/>
<path d="M353.5,147.4 L354,148.71 L354.5,149.9 L355,150.99 L355.5,151.99 L356.01,152.91 L356.51,153.76 L357.01,154.55 L357.51,155.28 L358.01,155.97 L358.51,156.61 L359.01,157.21 L359.51,157.77 L360.01,158.3 L360.52,158.81 L361.02,159.29 L361.52,159.75 L362.02,160.19 L362.52,160.61 L363.02,161.02 L363.52,161.41 L364.02,161.79 L364.52,162.15 L365.03,162.51 L365.53,162.85 L366.03,163.19 L366.53,163.51 L367.03,163.83 L367.53,164.15 L368.03,164.45 L368.53,164.75 L369.03,165.05 L369.54,165.34 L370.04,165.62 L370.54,165.9 L371.04,166.18 L371.54,166.45 L372.04,166.72 L372.54,166.98 L373.04,167.24 L373.54,167.5 L374.05,167.76 L374.55,168.01 L375.05,168.26 L375.55,168.5 L376.05,168.74 L376.55,168.98 L377.05,169.22 L377.55,169.45 L378.06,169.69 L378.56,169.91 L379.06,170.14 L379.56,170.37 L380.06,170.59 L380.56,170.81 L381.06,171.03 L381.56,171.24 L382.06,171.45 L382.57,171.67 L383.07,171.87 L383.57,172.08 L384.07,172.29 L384.57,172.49 L385.07,172.69 L385.57,172.89 L386.07,173.09 L386.57,173.28 L387.08,173.47 L387.58,173.67 L388.08,173.86 L388.58,174.04 L389.08,174.23 L389.58,174.41 L390.08,174.59 L390.58,174.78 L391.08,174.95 L391.59,175.13 L392.09,175.31 L392.59,175.48 L393.09,175.65 L393.59,175.82 L394.09,175.99 L394.59,176.16 L395.09,176.32 L395.59,176.49 L396.1,176.65 L396.6,176.81 L397.1,176.97 L397.6,177.13 L398.1,177.28 L398.6,177.44 L399.1,177.59 L399.6,177.74 L400.1,177.89 L400.61,178.04 L401.11,178.19 L401.61,178.33 L402.11,178.48 L402.61,178.62 L403.11,178.76 L403.61,178.9 L404.11,179.04 L404.61,179.18 L405.12,179.32 L405.62,179.45 L406.12,179.59 L406.62,179.72 L407.12,179.85 L407.62,179.98 L408.12,180.11 L408.62,180.24 L409.12,180.36 L409.63,180.49 L410.13,180.61 L410.63,180.73 L411.13,180.85 L411.63,180.98 L412.13,181.09 L412.63,181.21 L413.13,181.33 L413.63,181.45 L414.14,181.56 L414.64,181.67 L415.14,181.79 L415.64,181.9 L416.14,182.01 L416.64,182.12 L417.14,182.22 L417.64,182.33 L418.14,182.44 L418.65,182.54 L419.15,182.65 L419.65,182.75 L420.15,182.85 L420.65,182.95 L421.15,183.05 L421.65,183.15 L422.15,183.25 L422.66,183.35 L423.16,183.45 L423.66,183.54 L424.16,183.64 L424.66,183.73 L425.16,183.82 L425.66,183.91 L426.16,184 L426.66,184.09 L427.17,184.18 L427.67,184.27 L428.17,184.36 L428.67,184.45 L429.17,184.53 L429.67,184.62 L430.17,184.7 L430.67,184.79 L431.17,184.87 L431.68,184.95 L432.18,185.03 L432.68,185.11 L433.18,185.19 L433.68,185.27 L434.18,185.35 L434.68,185.42 L435.18,185.5 L435.68,185.58 L436.19,185.65 L436.69,185.73 L437.19,185.8 L437.69,185.87 L438.19,185.94 L438.69,186.02 L439.19,186.09 L439.69,186.16 L440.19,186.23 L440.7,186.3 L441.2,186.36 L441.7,186.43 L442.2,186.5 L442.7,186.56" fill="none" stroke="#111" stroke-width="0.8"/>
<path d="M353.5,147.4 L354,148.14 L354.5,148.82 L355,149.45 L355.5,150.04 L356.01,150.58 L356.51,151.09 L357.01,151.56 L357.51,152.01 L358.01,152.43 L358.51,152.83 L359.01,153.21 L359.51,153.57 L360.01,153.91 L360.52,154.24 L361.02,154.56 L361.52,154.86 L362.02,155.16 L362.52,155.44 L363.02,155.71 L363.52,155.98 L364.02,156.24 L364.52,156.5 L365.03,156.74 L365.53,156.98 L366.03,157.22 L366.53,157.45 L367.03,157.68 L367.53,157.9 L368.03,158.12 L368.53,158.34 L369.03,158.55 L369.54,158.76 L370.04,158.96 L370.54,159.17 L371.04,159.37 L371.54,159.56 L372.04,159.76 L372.54,159.95 L373.04,160.14 L373.54,160.33 L374.05,160.52 L374.55,160.7 L375.05,160.88 L375.55,161.06 L376.05,161.24 L376.55,161.41 L377.05,161.59 L377.55,161.76 L378.06,161.93 L378.56,162.1 L379.06,162.27 L379.56,162.43 L380.06,162.59 L380.56,162.76 L381.06,162.92 L381.56,163.07 L382.06,163.23 L382.57,163.39 L383.07,163.54 L383.57,163.69 L384.07,163.84 L384.57,163.99 L385.07,164.14 L385.57,164.29 L386.07,164.43 L386.57,164.58 L387.08,164.72 L387.58,164.86 L388.08,165 L388.58,165.14 L389.08,165.27 L389.58,165.41 L390.08,165.54 L390.58,165.68 L391.08,165.81 L391.59,165.94 L392.09,166.07 L392.59,166.2 L393.09,166.32 L393.59,166.45 L394.09,166.57 L394.59,166.7 L395.09,166.82 L395.59,166.94 L396.1,167.06 L396.6,167.18 L397.1,167.29 L397.6,167.41 L398.1,167.52 L398.6,167.12 L399.1,167.03 L399.6,167.72 L400.1,167.16 L400.61,167.81 L401.11,167.72 L401.61,167.47 L402.11,168.1 L402.61,167.65 L403.11,168.22 L403.61,167.9 L404.11,168.03 L404.61,168.52 L405.12,169.09 L405.62,168.37 L406.12,168.58 L406.62,169.15 L407.12,169.62 L407.62,169.29 L408.12,169.17 L408.62,169.94 L409.12,168.95 L409.63,169.99 L410.13,169.42 L410.63,169.34 L411.13,169.39 L411.63,169.71 L412.13,170.39 L412.63,169.73 L413.13,170.29 L413.63,170.44 L414.14,170.21 L414.64,170.5 L415.14,170.02 L415.64,170.09 L416.14,170.35 L416.64,170.98 L417.14,170.77 L417.64,170.71 L418.14,171.11 L418.65,171.03 L419.15,170.93 L419.65,171.58 L420.15,171.55 L420.65,171.09 L421.15,171.55 L421.65,171.56 L422.15,172.05 L422.66,171.95 L423.16,171.5 L423.66,172.38 L424.16,171.44 L424.66,171.86 L425.16,172.33 L425.66,171.69 L426.16,172.15 L426.66,171.69 L427.17,172.49 L427.67,172.67 L428.17,172.51 L428.67,172.93 L429.17,172.33 L429.67,172.84 L430.17,172.79 L430.67,172.83 L431.17,172.75 L431.68,173.26 L432.18,173.44 L432.68,172.95 L433.18,173.23 L433.68,172.58 L434.18,173.39 L434.68,173.38 L435.18,173.84 L435.68,173.7 L436.19,173.12 L436.69,173.3 L437.19,173.68 L437.69,172.98 L438.19,173.55 L438.69,173.26 L439.19,173.25 L439.69,173.23 L440.19,174.11 L440.7,173.42 L441.2,173.6 L441.7,173.82 L442.2,174.43 L442.7,173.56" fill="none" stroke="#111" stroke-width="0.8"/>
<path d="M353.5,147.4 L354,147.67 L354.5,147.92 L355,148.15 L355.5,148.38 L356.01,148.59 L356.51,148.79 L357.01,148.99 L357.51,149.18 L358.01,149.36 L358.51,149.53 L359.01,149.7 L359.51,149.86 L360.01,150.02 L360.52,150.17 L361.02,150.32 L361.52,150.47 L362.02,150.61 L362.52,150.75 L363.02,150.88 L363.52,151.02 L364.02,151.15 L364.52,151.28 L365.03,151.41 L365.53,151.53 L366.03,151.65 L366.53,151.77 L367.03,151.89 L367.53,152.01 L368.03,152.13 L368.53,152.24 L369.03,152.36 L369.54,152.47 L370.04,152.58 L370.54,152.69 L371.04,152.8 L371.54,152.9 L372.04,153.01 L372.54,153.11 L373.04,153.22 L373.54,153.32 L374.05,153.42 L374.55,153.52 L375.05,153.62 L375.55,153.72 L376.05,153.82 L376.55,153.91 L377.05,154.01 L377.55,154.1 L378.06,154.19 L378.56,154.29 L379.06,154.38 L379.56,154.47 L380.06,154.56 L380.56,154.65 L381.06,154.73 L381.56,154.82 L382.06,154.91 L382.57,154.99 L383.07,155.08 L383.57,155.16 L384.07,155.24 L384.57,155.33 L385.07,155.41 L385.57,155.49 L386.07,155.57 L386.57,155.65 L387.08,155.73 L387.58,155.8 L388.08,155.88 L388.58,155.96 L389.08,156.03 L389.58,156.11 L390.08,156.18 L390.58,156.25 L391.08,156.32 L391.59,156.4 L392.09,156.47 L392.59,156.54 L393.09,156.61 L393.59,156.68 L394.09,156.74 L394.59,156.81 L395.09,156.88 L395.59,156.95 L396.1,157.01 L396.6,157.08 L397.1,157.14 L397.6,157.2 L398.1,157.27 L398.6,157.33 L399.1,157.39 L399.6,157.45 L400.1,157.52 L400.61,157.58 L401.11,157.64 L401.61,157.69 L402.11,157.75 L402.61,157.81 L403.11,157.87 L403.61,157.93 L404.11,157.98 L404.61,158.04 L405.12,158.09 L405.62,158.15 L406.12,158.2 L406.62,158.26 L407.12,158.31 L407.62,158.36 L408.12,158.41 L408.62,158.46 L409.12,158.52 L409.63,158.57 L410.13,158.62 L410.63,158.67 L411.13,158.72 L411.63,158.76 L412.13,158.81 L412.63,158.86 L413.13,158.91 L413.63,158.96 L414.14,159 L414.64,159.05 L415.14,159.09 L415.64,159.14 L416.14,159.18 L416.64,159.23 L417.14,159.27 L417.64,159.31 L418.14,159.36 L418.65,159.4 L419.15,159.44 L419.65,159.48 L420.15,159.53 L420.65,159.57 L421.15,159.61 L421.65,159.65 L422.15,159.69 L422.66,159.73 L423.16,159.77 L423.66,159.8 L424.16,159.84 L424.66,159.88 L425.16,159.92 L425.66,159.96 L426.16,159.99 L426.66,160.03 L427.17,160.07 L427.67,160.1 L428.17,160.14 L428.67,160.17 L429.17,160.21 L429.67,160.24 L430.17,160.27 L430.67,160.31 L431.17,160.34 L431.68,160.38 L432.18,160.41 L432.68,160.44 L433.18,160.47 L433.68,160.5 L434.18,160.54 L434.68,160.57 L435.18,160.6 L435.68,160.63 L436.19,160.66 L436.69,160.69 L437.19,160.72 L437.69,160.75 L438.19,160.78 L438.69,160.81 L439.19,160.84 L439.69,160.86 L440.19,160.89 L440.7,160.92 L441.2,160.95 L441.7,160.98 L442.2,161 L442.7,161.03" fill="none" stroke="#111" stroke-width="0.8"/>
<path d="M353.5,147.4 L354,147.51 L354.5,147.62 L355,147.72 L355.5,147.82 L356.01,147.92 L356.51,148.01 L357.01,148.1 L357.51,148.18 L358.01,148.27 L358.51,148.35 L359.01,148.43 L359.51,148.51 L360.01,148.58 L360.52,148.66 L361.02,148.73 L361.52,148.8 L362.02,148.87 L362.52,148.94 L363.02,149.01 L363.52,149.08 L364.02,149.14 L364.52,149.21 L365.03,149.27 L365.53,149.34 L366.03,149.4 L366.53,149.46 L367.03,149.52 L367.53,149.58 L368.03,149.64 L368.53,149.7 L369.03,149.76 L369.54,149.82 L370.04,149.87 L370.54,149.93 L371.04,149.99 L371.54,150.04 L372.04,150.1 L372.54,150.15 L373.04,150.2 L373.54,150.26 L374.05,150.31 L374.55,150.36 L375.05,150.41 L375.55,150.46 L376.05,150.51 L376.55,150.56 L377.05,150.61 L377.55,150.66 L378.06,150.71 L378.56,150.76 L379.06,150.81 L379.56,150.85 L380.06,150.9 L380.56,150.95 L381.06,150.99 L381.56,151.04 L382.06,151.08 L382.57,151.13 L383.07,151.17 L383.57,151.21 L384.07,151.26 L384.57,151.3 L385.07,151.34 L385.57,151.38 L386.07,151.42 L386.57,151.46 L387.08,151.51 L387.58,151.55 L388.08,151.59 L388.58,151.63 L389.08,151.66 L389.58,151.7 L390.08,151.74 L390.58,151.78 L391.08,151.82 L391.59,151.85 L392.09,151.89 L392.59,151.93 L393.09,151.96 L393.59,152 L394.09,152.03 L394.59,152.07 L395.09,152.1 L395.59,152.14 L396.1,152.17 L396.6,152.21 L397.1,152.24 L397.6,152.27 L398.1,152.31 L398.6,152.34 L399.1,152.37 L399.6,152.4 L400.1,152.44 L400.61,152.47 L401.11,152.5 L401.61,152.53 L402.11,152.56 L402.61,152.59 L403.11,152.62 L403.61,152.65 L404.11,152.68 L404.61,152.71 L405.12,152.74 L405.62,152.76 L406.12,152.79 L406.62,152.82 L407.12,152.85 L407.62,152.87 L408.12,152.9 L408.62,152.93 L409.12,152.96 L409.63,152.98 L410.13,153.01 L410.63,153.03 L411.13,153.06 L411.63,153.08 L412.13,153.11 L412.63,153.13 L413.13,153.16 L413.63,153.18 L414.14,153.21 L414.64,153.23 L415.14,153.25 L415.64,153.28 L416.14,153.3 L416.64,153.32 L417.14,153.35 L417.64,153.37 L418.14,153.39 L418.65,153.41 L419.15,153.44 L419.65,153.46 L420.15,153.48 L420.65,153.5 L421.15,153.52 L421.65,153.54 L422.15,153.56 L422.66,153.58 L423.16,153.6 L423.66,153.62 L424.16,153.64 L424.66,153.66 L425.16,153.68 L425.66,153.7 L426.16,153.72 L426.66,153.74 L427.17,153.76 L427.67,153.78 L428.17,153.8 L428.67,153.82 L429.17,153.83 L429.67,153.85 L430.17,153.87 L430.67,153.89 L431.17,153.9 L431.68,153.92 L432.18,153.94 L432.68,153.95 L433.18,153.97 L433.68,153.99 L434.18,154 L434.68,154.02 L435.18,154.04 L435.68,154.05 L436.19,154.07 L436.69,154.08 L437.19,154.1 L437.69,154.12 L438.19,154.13 L438.69,154.15 L439.19,154.16 L439.69,154.18 L440.19,154.19 L440.7,154.2 L441.2,154.22 L441.7,154.23 L442.2,154.25 L442.7,154.26" fill="none" stroke="#111" stroke-width="0.8"/>
<path d="M353.5,147.4 L354,147.44 L354.5,147.49 L355,147.53 L355.5,147.57 L356.01,147.62 L356.51,147.66 L357.01,147.7 L357.51,147.74 L358.01,147.78 L358.51,147.82 L359.01,147.86 L359.51,147.9 L360.01,147.94 L360.52,147.98 L361.02,148.02 L361.52,148.06 L362.02,148.1 L362.52,148.13 L363.02,148.17 L363.52,148.21 L364.02,148.24 L364.52,148.28 L365.03,148.31 L365.53,148.35 L366.03,148.38 L366.53,148.42 L367.03,148.45 L367.53,148.49 L368.03,148.52 L368.53,148.55 L369.03,148.59 L369.54,148.62 L370.04,148.65 L370.54,148.69 L371.04,148.72 L371.54,148.75 L372.04,148.78 L372.54,148.81 L373.04,148.84 L373.54,148.87 L374.05,148.9 L374.55,148.93 L375.05,148.96 L375.55,148.99 L376.05,149.02 L376.55,149.05 L377.05,149.08 L377.55,149.1 L378.06,149.13 L378.56,149.16 L379.06,149.19 L379.56,149.21 L380.06,149.24 L380.56,149.27 L381.06,149.29 L381.56,149.32 L382.06,149.34 L382.57,149.37 L383.07,149.39 L383.57,149.42 L384.07,149.44 L384.57,149.47 L385.07,149.49 L385.57,149.52 L386.07,149.54 L386.57,149.56 L387.08,149.59 L387.58,149.61 L388.08,149.63 L388.58,149.66 L389.08,149.68 L389.58,149.7 L390.08,149.72 L390.58,149.75 L391.08,149.77 L391.59,149.79 L392.09,149.81 L392.59,149.83 L393.09,149.85 L393.59,149.87 L394.09,149.89 L394.59,149.91 L395.09,149.93 L395.59,149.95 L396.1,149.97 L396.6,149.99 L397.1,150.01 L397.6,150.03 L398.1,150.05 L398.6,150.07 L399.1,150.09 L399.6,150.1 L400.1,150.12 L400.61,150.14 L401.11,150.16 L401.61,150.18 L402.11,150.19 L402.61,150.21 L403.11,150.23 L403.61,150.25 L404.11,150.26 L404.61,150.28 L405.12,150.3 L405.62,150.31 L406.12,150.33 L406.62,150.34 L407.12,150.36 L407.62,150.38 L408.12,150.39 L408.62,150.41 L409.12,150.42 L409.63,150.44 L410.13,150.45 L410.63,150.47 L411.13,150.48 L411.63,150.5 L412.13,150.51 L412.63,150.52 L413.13,150.54 L413.63,150.55 L414.14,150.57 L414.64,150.58 L415.14,150.59 L415.64,150.61 L416.14,150.62 L416.64,150.63 L417.14,150.65 L417.64,150.66 L418.14,150.67 L418.65,150.69 L419.15,150.7 L419.65,150.71 L420.15,150.72 L420.65,150.74 L421.15,150.75 L421.65,150.76 L422.15,150.77 L422.66,150.78 L423.16,150.79 L423.66,150.81 L424.16,150.82 L424.66,150.83 L425.16,150.84 L425.66,150.85 L426.16,150.86 L426.66,150.87 L427.17,150.88 L427.67,150.9 L428.17,150.91 L428.67,150.92 L429.17,150.93 L429.67,150.94 L430.17,150.95 L430.67,150.96 L431.17,150.97 L431.68,150.98 L432.18,150.99 L432.68,151 L433.18,151.01 L433.68,151.02 L434.18,151.03 L434.68,151.03 L435.18,151.04 L435.68,151.05 L436.19,151.06 L436.69,151.07 L437.19,151.08 L437.69,151.09 L438.19,151.1 L438.69,151.11 L439.19,151.11 L439.69,151.12 L440.19,151.13 L440.7,151.14 L441.2,151.15 L441.7,151.16 L442.2,151.16 L442.7,151.17" fill="none" stroke="#111" stroke-width="0.8"/>
<path d="M353.5,147.4 L354,147.42 L354.5,147.44 L355,147.46 L355.5,147.48 L356.01,147.49 L356.51,147.51 L357.01,147.53 L357.51,147.55 L358.01,147.57 L358.51,147.58 L359.01,147.6 L359.51,147.62 L360.01,147.64 L360.52,147.65 L361.02,147.67 L361.52,147.69 L362.02,147.7 L362.52,147.72 L363.02,147.73 L363.52,147.75 L364.02,147.77 L364.52,147.78 L365.03,147.8 L365.53,147.81 L366.03,147.83 L366.53,147.84 L367.03,147.86 L367.53,147.87 L368.03,147.89 L368.53,147.9 L369.03,147.92 L369.54,147.93 L370.04,147.94 L370.54,147.96 L371.04,147.97 L371.54,147.99 L372.04,148 L372.54,148.01 L373.04,148.03 L373.54,148.04 L374.05,148.05 L374.55,148.07 L375.05,148.08 L375.55,148.09 L376.05,148.1 L376.55,148.12 L377.05,148.13 L377.55,148.14 L378.06,148.15 L378.56,148.16 L379.06,148.18 L379.56,148.19 L380.06,148.2 L380.56,148.21 L381.06,148.22 L381.56,148.23 L382.06,148.25 L382.57,148.26 L383.07,148.27 L383.57,148.28 L384.07,148.29 L384.57,148.3 L385.07,148.31 L385.57,148.32 L386.07,148.33 L386.57,148.34 L387.08,148.35 L387.58,148.36 L388.08,148.37 L388.58,148.38 L389.08,148.39 L389.58,148.4 L390.08,148.41 L390.58,148.42 L391.08,148.43 L391.59,148.44 L392.09,148.45 L392.59,148.46 L393.09,148.47 L393.59,148.47 L394.09,148.48 L394.59,148.49 L395.09,148.5 L395.59,148.51 L396.1,148.52 L396.6,148.53 L397.1,148.54 L397.6,148.54 L398.1,148.55 L398.6,148.56 L399.1,148.57 L399.6,148.58 L400.1,148.58 L400.61,148.59 L401.11,148.6 L401.61,148.61 L402.11,148.61 L402.61,148.62 L403.11,148.63 L403.61,148.64 L404.11,148.64 L404.61,148.65 L405.12,148.66 L405.62,148.67 L406.12,148.67 L406.62,148.68 L407.12,148.69 L407.62,148.69 L408.12,148.7 L408.62,148.71 L409.12,148.71 L409.63,148.72 L410.13,148.73 L410.63,148.73 L411.13,148.74 L411.63,148.75 L412.13,148.75 L412.63,148.76 L413.13,148.76 L413.63,148.77 L414.14,148.78 L414.64,148.78 L415.14,148.79 L415.64,148.79 L416.14,148.8 L416.64,148.81 L417.14,148.81 L417.64,148.82 L418.14,148.82 L418.65,148.83 L419.15,148.83 L419.65,148.84 L420.15,148.84 L420.65,148.85 L421.15,148.86 L421.65,148.86 L422.15,148.87 L422.66,148.87 L423.16,148.88 L423.66,148.88 L424.16,148.89 L424.66,148.89 L425.16,148.9 L425.66,148.9 L426.16,148.91 L426.66,148.91 L427.17,148.91 L427.67,148.92 L428.17,148.92 L428.67,148.93 L429.17,148.93 L429.67,148.94 L430.17,148.94 L430.67,148.95 L431.17,148.95 L431.68,148.96 L432.18,148.96 L432.68,148.96 L433.18,148.97 L433.68,148.97 L434.18,148.98 L434.68,148.98 L435.18,148.98 L435.68,148.99 L436.19,148.99 L436.69,149 L437.19,149 L437.69,149 L438.19,149.01 L438.69,149.01 L439.19,149.02 L439.69,149.02 L440.19,149.02 L440.7,149.03 L441.2,149.03 L441.7,149.03 L442.2,149.04 L442.7,149.04" fill="none" stroke="#111" stroke-width="0.8"/>
<path d="M353.5,147.4 L354,147.41 L354.5,147.41 L355,147.42 L355.5,147.42 L356.01,147.43 L356.51,147.43 L357.01,147.44 L357.51,147.44 L358.01,147.45 L358.51,147.46 L359.01,147.46 L359.51,147.47 L360.01,147.47 L360.52,147.48 L361.02,147.48 L361.52,147.49 L362.02,147.49 L362.52,147.5 L363.02,147.5 L363.52,147.51 L364.02,147.51 L364.52,147.51 L365.03,147.52 L365.53,147.52 L366.03,147.53 L366.53,147.53 L367.03,147.54 L367.53,147.54 L368.03,147.55 L368.53,147.55 L369.03,147.55 L369.54,147.56 L370.04,147.56 L370.54,147.57 L371.04,147.57 L371.54,147.58 L372.04,147.58 L372.54,147.58 L373.04,147.59 L373.54,147.59 L374.05,147.6 L374.55,147.6 L375.05,147.6 L375.55,147.61 L376.05,147.61 L376.55,147.61 L377.05,147.62 L377.55,147.62 L378.06,147.63 L378.56,147.63 L379.06,147.63 L379.56,147.64 L380.06,147.64 L380.56,147.64 L381.06,147.65 L381.56,147.65 L382.06,147.65 L382.57,147.66 L383.07,147.66 L383.57,147.66 L384.07,147.67 L384.57,147.67 L385.07,147.67 L385.57,147.68 L386.07,147.68 L386.57,147.68 L387.08,147.69 L387.58,147.69 L388.08,147.69 L388.58,147.69 L389.08,147.7 L389.58,147.7 L390.08,147.7 L390.58,147.71 L391.08,147.71 L391.59,147.71 L392.09,147.71 L392.59,147.72 L393.09,147.72 L393.59,147.72 L394.09,147.73 L394.59,147.73 L395.09,147.73 L395.59,147.73 L396.1,147.74 L396.6,147.74 L397.1,147.74 L397.6,147.74 L398.1,147.75 L398.6,147.75 L399.1,147.75 L399.6,147.75 L400.1,147.76 L400.61,147.76 L401.11,147.76 L401.61,147.76 L402.11,147.76 L402.61,147.77 L403.11,147.77 L403.61,147.77 L404.11,147.77 L404.61,147.78 L405.12,147.78 L405.62,147.78 L406.12,147.78 L406.62,147.78 L407.12,147.79 L407.62,147.79 L408.12,147.79 L408.62,147.79 L409.12,147.79 L409.63,147.8 L410.13,147.8 L410.63,147.8 L411.13,147.8 L411.63,147.8 L412.13,147.81 L412.63,147.81 L413.13,147.81 L413.63,147.81 L414.14,147.81 L414.64,147.81 L415.14,147.82 L415.64,147.82 L416.14,147.82 L416.64,147.82 L417.14,147.82 L417.64,147.83 L418.14,147.83 L418.65,147.83 L419.15,147.83 L419.65,147.83 L420.15,147.83 L420.65,147.84 L421.15,147.84 L421.65,147.84 L422.15,147.84 L422.66,147.84 L423.16,147.84 L423.66,147.84 L424.16,147.85 L424.66,147.85 L425.16,147.85 L425.66,147.85 L426.16,147.85 L426.66,147.85 L427.17,147.85 L427.67,147.86 L428.17,147.86 L428.67,147.86 L429.17,147.86 L429.67,147.86 L430.17,147.86 L430.67,147.86 L431.17,147.87 L431.68,147.87 L432.18,147.87 L432.68,147.87 L433.18,147.87 L433.68,147.87 L434.18,147.87 L434.68,147.87 L435.18,147.88 L435.68,147.88 L436.19,147.88 L436.69,147.88 L437.19,147.88 L437.69,147.88 L438.19,147.88 L438.69,147.88 L439.19,147.88 L439.69,147.89 L440.19,147.89 L440.7,147.89 L441.2,147.89 L441.7,147.89 L442.2,147.89 L442.7,147.89" fill="none" stroke="#111" stroke-width="0.8"/>
<path d="M442.7,146 V187" stroke="#111" stroke-width="0.7" fill="none"/>
<path d="M442.7,148.4 L443.82,148.31 L444.95,148.22 L446.07,148.14 L447.2,148.07 L448.32,148.01 L449.45,147.95 L450.57,147.9 L451.7,147.85 L452.82,147.81 L453.95,147.77 L455.07,147.74 L456.2,147.7 L457.32,147.68 L458.45,147.65 L459.57,147.63 L460.7,147.6 L461.82,147.59 L462.95,147.57 L464.07,147.55 L465.2,147.54 L466.32,147.52 L467.45,147.51 L468.57,147.5 L469.7,147.49" fill="none" stroke="#111" stroke-width="0.6"/>
<path d="M442.7,149.6 L443.82,149.39 L444.95,149.2 L446.07,149.03 L447.2,148.88 L448.32,148.74 L449.45,148.61 L450.57,148.5 L451.7,148.39 L452.82,148.3 L453.95,148.22 L455.07,148.14 L456.2,148.07 L457.32,148.01 L458.45,147.95 L459.57,147.9 L460.7,147.85 L461.82,147.81 L462.95,147.77 L464.07,147.73 L465.2,147.7 L466.32,147.67 L467.45,147.65 L468.57,147.62 L469.7,147.6" fill="none" stroke="#111" stroke-width="0.6"/>
<path d="M442.7,150.8 L443.82,150.48 L444.95,150.19 L446.07,149.92 L447.2,149.69 L448.32,149.47 L449.45,149.27 L450.57,149.1 L451.7,148.94 L452.82,148.79 L453.95,148.66 L455.07,148.54 L456.2,148.43 L457.32,148.34 L458.45,148.25 L459.57,148.17 L460.7,148.1 L461.82,148.03 L462.95,147.97 L464.07,147.92 L465.2,147.87 L466.32,147.82 L467.45,147.78 L468.57,147.75 L469.7,147.71" fill="none" stroke="#111" stroke-width="0.6"/>
<path d="M442.7,152 L443.82,151.57 L444.95,151.17 L446.07,150.82 L447.2,150.49 L448.32,150.2 L449.45,149.94 L450.57,149.7 L451.7,149.48 L452.82,149.28 L453.95,149.11 L455.07,148.94 L456.2,148.8 L457.32,148.67 L458.45,148.55 L459.57,148.44 L460.7,148.34 L461.82,148.25 L462.95,148.17 L464.07,148.1 L465.2,148.03 L466.32,147.97 L467.45,147.92 L468.57,147.87 L469.7,147.83" fill="none" stroke="#111" stroke-width="0.6"/>
<path d="M442.7,153.2 L443.82,152.65 L444.95,152.16 L446.07,151.71 L447.2,151.3 L448.32,150.93 L449.45,150.6 L450.57,150.3 L451.7,150.02 L452.82,149.78 L453.95,149.55 L455.07,149.35 L456.2,149.16 L457.32,149 L458.45,148.85 L459.57,148.71 L460.7,148.59 L461.82,148.47 L462.95,148.37 L464.07,148.28 L465.2,148.2 L466.32,148.12 L467.45,148.05 L468.57,147.99 L469.7,147.94" fill="none" stroke="#111" stroke-width="0.6"/>
<path d="M466.6,197.3 V210.5 H483.7" stroke="#222" stroke-width="1" fill="none"/>
<text x="480.5" y="223.3" font-size="11.3" font-weight="normal" text-anchor="middle" fill="#111" style="font-family:'Liberation Sans',sans-serif;">400 ms</text>
<text transform="translate(461.3,201.5) rotate(-90)" font-size="11" text-anchor="middle" fill="#111" style="font-family:'Liberation Sans',sans-serif">1 nA</text>
<text x="561.6" y="27.2" font-size="11.3" font-weight="bold" text-anchor="middle" fill="#111" style="font-family:'Liberation Sans',sans-serif;">KAT1-I189A</text>
<path d="M500.3,41.8 H632.8" stroke="#000" stroke-width="2.8" fill="none"/>
<polygon points="515.8,38.34 516.3,38.62 516.8,38.61 517.3,38.32 517.8,38.62 518.3,38.15 518.8,38.2 519.3,38.37 519.8,38.22 520.3,38.32 520.8,38.42 521.3,38.5 521.8,38.45 522.3,38.09 522.8,38.56 523.3,38.57 523.8,38.31 524.3,38.46 524.8,38.09 525.3,38.16 525.8,38.08 526.3,38.15 526.8,38.29 527.3,38.62 527.8,38.15 528.3,38.28 528.8,38.13 529.3,38.7 529.8,38.36 530.3,38.12 530.8,38.22 531.3,38.15 531.8,38.67 532.3,38.15 532.8,38.07 533.3,38.69 533.8,38.5 534.3,38.29 534.8,38.55 535.3,38.56 535.8,38.19 536.3,38.69 536.8,38.57 537.3,38.53 537.8,38.39 538.3,38.07 538.8,38.23 539.3,38.5 539.8,38.34 540.3,38.69 540.8,38.29 541.3,38.2 541.8,38.18 542.3,38.64 542.8,38.36 543.3,38.57 543.8,38.48 544.3,38.56 544.8,38.36 545.3,38.56 545.8,38.57 546.3,38.31 546.8,38.67 547.3,38.16 547.8,38.15 548.3,38.57 548.8,38.59 549.3,38.48 549.8,38.41 550.3,38.06 550.8,38.47 551.3,38.66 551.8,38.62 552.3,38.19 552.8,38.24 553.3,38.43 553.8,38.32 554.3,38.64 554.8,38.35 555.3,38.64 555.8,38.65 556.3,38.4 556.8,38.06 557.3,38.17 557.8,38.57 558.3,38.36 558.8,38.41 559.3,38.39 559.8,38.56 560.3,38.41 560.8,38.23 561.3,38.38 561.8,38.54 562.3,38.34 562.8,38.38 563.3,38.5 563.8,38.4 564.3,38.66 564.8,38.62 565.3,38.22 565.8,38.66 566.3,38.14 566.8,38.34 567.3,38.21 567.8,38.49 568.3,38.63 568.8,38.52 569.3,38.14 569.8,38.68 570.3,38.67 570.8,38.37 571.3,38.59 571.8,38.33 572.3,38.27 572.8,38.26 573.3,38.06 573.8,38.34 574.3,38.27 574.8,38.38 575.3,38.69 575.8,38.68 576.3,38.22 576.8,38.56 577.3,38.13 577.8,38.64 578.3,38.22 578.8,38.65 579.3,38.51 579.8,38.09 580.3,38.33 580.8,38.66 581.3,38.57 581.8,38.61 582.3,38.61 582.8,38.27 583.3,38.65 583.8,38.13 584.3,38.2 584.8,38.15 585.3,38.18 585.8,38.25 586.3,38.24 586.8,38.17 587.3,38.06 587.8,38.06 588.3,38.41 588.8,38.36 589.3,38.12 589.8,38.33 590.3,38.59 590.8,38.38 591.3,38.69 591.8,38.59 592.3,38.46 592.8,38.28 593.3,38.13 593.8,38.53 594.3,38.16 594.8,38.6 595.3,38.49 595.8,38.21 596.3,38.35 596.8,38.34 597.3,38.68 597.8,38.41 598.3,38.68 598.8,38.28 599.3,38.3 599.8,38.38 600.3,38.38 600.8,38.22 601.3,38.31 601.8,38.06 602.3,38.2 602.8,38.39 603.3,38.48 603.8,38.62 604.3,38.26 604.8,38.15 605.3,38.47 605.8,38.59 606.3,38.46 606.8,38.58 607.3,38.39 607.8,38.59 608.3,38.59 608.8,38.63 609.3,38.5 609.8,38.07 610.3,38.28 610.8,38.59 611.3,38.46 611.8,38.49 612.3,38.05 612.8,38.54 613.3,38.4 613.8,38.09 614.3,38.21 614.8,38.22 615.3,38.18 615.3,46.18 614.8,46.17 614.3,45.75 613.8,46.18 613.3,46.13 612.8,46.03 612.3,46.22 611.8,46.02 611.3,46.11 610.8,46.06 610.3,45.77 609.8,45.79 609.3,45.85 608.8,46.14 608.3,46.08 607.8,46.22 607.3,46.03 606.8,45.79 606.3,46.18 605.8,46.28 605.3,45.73 604.8,46.17 604.3,46.34 603.8,45.95 603.3,46.17 602.8,46.19 602.3,46.08 601.8,45.9 601.3,45.73 600.8,45.76 600.3,45.7 599.8,45.83 599.3,46.01 598.8,45.7 598.3,45.9 597.8,45.86 597.3,46.33 596.8,45.87 596.3,45.8 595.8,45.89 595.3,45.88 594.8,46.27 594.3,45.75 593.8,45.87 593.3,45.75 592.8,45.74 592.3,45.96 591.8,46.16 591.3,45.92 590.8,46.15 590.3,45.96 589.8,46.02 589.3,46.23 588.8,46.31 588.3,45.82 587.8,46.18 587.3,45.86 586.8,45.93 586.3,46.03 585.8,46.19 585.3,45.9 584.8,45.73 584.3,45.77 583.8,46.04 583.3,45.87 582.8,46.06 582.3,45.99 581.8,45.74 581.3,45.75 580.8,46.11 580.3,45.75 579.8,46.15 579.3,45.76 578.8,46.07 578.3,45.8 577.8,46.23 577.3,45.97 576.8,45.88 576.3,45.73 575.8,45.77 575.3,46.21 574.8,45.74 574.3,46.11 573.8,45.71 573.3,46.06 572.8,46.17 572.3,45.83 571.8,46.04 571.3,45.8 570.8,46.34 570.3,45.96 569.8,45.84 569.3,46.27 568.8,46.13 568.3,45.8 567.8,46.21 567.3,45.75 566.8,45.75 566.3,45.78 565.8,46.25 565.3,46.06 564.8,46.31 564.3,46.15 563.8,46.01 563.3,45.99 562.8,46.03 562.3,46.1 561.8,46.29 561.3,46.07 560.8,46.2 560.3,45.86 559.8,45.77 559.3,46.06 558.8,45.91 558.3,46.17 557.8,45.81 557.3,45.7 556.8,45.99 556.3,46.04 555.8,46.03 555.3,45.97 554.8,46.08 554.3,45.93 553.8,45.79 553.3,45.87 552.8,45.86 552.3,45.86 551.8,46.24 551.3,45.98 550.8,46.04 550.3,46.33 549.8,45.79 549.3,45.93 548.8,46.34 548.3,45.8 547.8,46.29 547.3,45.78 546.8,46.17 546.3,45.96 545.8,46.33 545.3,45.92 544.8,45.82 544.3,46.19 543.8,46.29 543.3,45.76 542.8,46.12 542.3,46.25 541.8,46.11 541.3,45.83 540.8,45.84 540.3,46.32 539.8,46.31 539.3,46.32 538.8,45.87 538.3,45.72 537.8,45.93 537.3,45.85 536.8,46.23 536.3,46.25 535.8,46.23 535.3,45.91 534.8,46.05 534.3,45.81 533.8,45.87 533.3,46.26 532.8,46.04 532.3,46.05 531.8,46.04 531.3,45.72 530.8,46.24 530.3,45.92 529.8,45.76 529.3,46 528.8,46.25 528.3,45.94 527.8,45.86 527.3,46.1 526.8,45.72 526.3,45.77 525.8,45.7 525.3,45.92 524.8,45.84 524.3,45.74 523.8,45.77 523.3,45.96 522.8,46.27 522.3,46.28 521.8,46.14 521.3,46.04 520.8,46.32 520.3,45.94 519.8,45.7 519.3,46.08 518.8,45.85 518.3,45.81 517.8,46.32 517.3,45.93 516.8,45.88 516.3,46.23 515.8,46.06" fill="#000"/>
<path d="M515.8,34.5 V53 M615.5,37 V47" stroke="#333" stroke-width="0.5" fill="none"/>
<text x="567.7" y="92" font-size="11.25" font-weight="bold" text-anchor="middle" fill="#111" style="font-family:'Liberation Sans',sans-serif;">KAT1-R310A</text>
<path d="M502.3,104.6 H518.3 M617.5,105.6 H634.7" stroke="#000" stroke-width="1.7" fill="none"/>
<rect x="518.3" y="100.8" width="99.2" height="12" fill="#f3f3f3"/>
<path d="M518.3,101 H617.5" stroke="#555" stroke-width="0.4" fill="none"/>
<path d="M518.3,101.9 H617.5" stroke="#444" stroke-width="0.45" fill="none"/>
<path d="M518.3,102.8 H617.5" stroke="#333" stroke-width="0.5" fill="none"/>
<path d="M518.3,103.7 H617.5" stroke="#111" stroke-width="0.6" fill="none"/>
<path d="M518.3,104.5 H617.5" stroke="#000" stroke-width="0.7" fill="none"/>
<path d="M518.3,105.3 H617.5" stroke="#111" stroke-width="0.6" fill="none"/>
<path d="M518.3,106.4 H617.5" stroke="#444" stroke-width="0.45" fill="none"/>
<path d="M518.3,107.6 H617.5" stroke="#555" stroke-width="0.4" fill="none"/>
<path d="M518.3,108.8 H617.5" stroke="#666" stroke-width="0.4" fill="none"/>
<path d="M518.3,110 H617.5" stroke="#666" stroke-width="0.4" fill="none"/>
<path d="M518.3,111.2 H617.5" stroke="#777" stroke-width="0.4" fill="none"/>
<path d="M518.3,113.28 L519,112.79 L519.7,112.68 L520.4,112.78 L521.1,112.98 L521.8,113.07 L522.5,112.92 L523.2,112.94 L523.9,112.38 L524.6,112.45 L525.3,112.55 L526,113.04 L526.7,112.6 L527.4,112.87 L528.1,112.31 L528.8,112.36 L529.5,112.57 L530.2,112.97 L530.9,112.99 L531.6,112.98 L532.3,112.59 L533,112.82 L533.7,112.76 L534.4,112.77 L535.1,112.42 L535.8,113.19 L536.5,112.5 L537.2,113.28 L537.9,113.24 L538.6,112.32 L539.3,112.76 L540,113.12 L540.7,113.27 L541.4,112.75 L542.1,112.57 L542.8,112.51 L543.5,113.25 L544.2,112.51 L544.9,112.88 L545.6,112.44 L546.3,112.82 L547,113.25 L547.7,112.43 L548.4,113.12 L549.1,112.81 L549.8,113.19 L550.5,113 L551.2,112.53 L551.9,113.2 L552.6,112.79 L553.3,112.32 L554,112.3 L554.7,112.79 L555.4,112.75 L556.1,112.6 L556.8,112.44 L557.5,112.64 L558.2,112.62 L558.9,113.14 L559.6,112.3 L560.3,113.05 L561,113.14 L561.7,112.42 L562.4,113.23 L563.1,113.01 L563.8,113.2 L564.5,112.59 L565.2,112.67 L565.9,112.69 L566.6,113.3 L567.3,112.89 L568,112.66 L568.7,112.73 L569.4,112.58 L570.1,112.35 L570.8,112.4 L571.5,113.13 L572.2,112.59 L572.9,113.24 L573.6,112.55 L574.3,112.57 L575,112.81 L575.7,112.49 L576.4,112.67 L577.1,113.26 L577.8,113.18 L578.5,113.11 L579.2,112.93 L579.9,113.21 L580.6,113.24 L581.3,112.85 L582,113.02 L582.7,112.35 L583.4,113.03 L584.1,112.75 L584.8,113.05 L585.5,112.94 L586.2,112.59 L586.9,112.35 L587.6,113.23 L588.3,112.43 L589,112.77 L589.7,112.64 L590.4,112.6 L591.1,113.04 L591.8,113.28 L592.5,112.56 L593.2,112.96 L593.9,112.6 L594.6,112.86 L595.3,112.69 L596,112.47 L596.7,112.46 L597.4,112.51 L598.1,113.21 L598.8,112.8 L599.5,112.52 L600.2,113.21 L600.9,113.3 L601.6,112.75 L602.3,112.44 L603,112.49 L603.7,112.39 L604.4,112.64 L605.1,112.39 L605.8,112.54 L606.5,112.56 L607.2,112.87 L607.9,113.19 L608.6,113.05 L609.3,112.71 L610,112.71 L610.7,112.82 L611.4,112.68 L612.1,112.64 L612.8,112.36 L613.5,112.58 L614.2,113.27 L614.9,112.43 L615.6,112.8 L616.3,112.93 L617,113.16" fill="none" stroke="#000" stroke-width="0.7"/>
<path d="M518.3,94.8 V123 M617.5,96 V129" stroke="#333" stroke-width="0.5" fill="none"/>
<text x="563.4" y="171.2" font-size="11.3" font-weight="bold" text-anchor="middle" fill="#111" style="font-family:'Liberation Sans',sans-serif;">KAT1-I189A/R310A</text>
<path d="M501,188.3 H634" stroke="#000" stroke-width="1.6" fill="none"/>
<polygon points="517,185.59 517.5,185.61 518,185.74 518.5,186 519,185.46 519.5,185.91 520,185.76 520.5,185.45 521,186.05 521.5,186.01 522,185.61 522.5,185.55 523,185.89 523.5,185.92 524,185.95 524.5,185.81 525,185.96 525.5,186.05 526,185.65 526.5,185.61 527,185.9 527.5,185.5 528,185.83 528.5,185.6 529,185.46 529.5,185.75 530,185.87 530.5,185.76 531,185.61 531.5,185.91 532,185.46 532.5,185.89 533,185.62 533.5,186.05 534,185.47 534.5,185.72 535,185.58 535.5,185.93 536,185.58 536.5,185.65 537,185.6 537.5,185.94 538,186.07 538.5,185.57 539,185.72 539.5,186.07 540,185.71 540.5,186.08 541,185.48 541.5,185.71 542,186.02 542.5,186.1 543,185.66 543.5,186.06 544,185.47 544.5,185.7 545,185.67 545.5,185.45 546,185.68 546.5,185.53 547,185.58 547.5,185.98 548,185.73 548.5,185.76 549,186.05 549.5,185.69 550,185.47 550.5,185.98 551,185.48 551.5,185.49 552,185.62 552.5,186.03 553,185.63 553.5,185.85 554,185.92 554.5,185.63 555,185.94 555.5,185.86 556,185.47 556.5,185.76 557,186.07 557.5,185.61 558,185.77 558.5,185.57 559,185.93 559.5,185.95 560,185.66 560.5,185.69 561,185.5 561.5,185.94 562,185.49 562.5,185.81 563,186.09 563.5,186.09 564,185.5 564.5,185.77 565,185.74 565.5,185.72 566,185.89 566.5,186 567,185.53 567.5,185.64 568,185.69 568.5,185.58 569,185.61 569.5,186.02 570,185.66 570.5,186.1 571,185.6 571.5,185.87 572,185.52 572.5,185.98 573,186.04 573.5,185.64 574,185.57 574.5,185.83 575,185.69 575.5,185.74 576,185.96 576.5,185.52 577,185.85 577.5,185.69 578,185.58 578.5,185.84 579,185.58 579.5,185.66 580,185.57 580.5,185.58 581,185.81 581.5,185.52 582,185.81 582.5,185.51 583,185.9 583.5,185.63 584,186.07 584.5,185.82 585,185.72 585.5,186.1 586,185.58 586.5,185.58 587,186.04 587.5,185.98 588,186.02 588.5,185.56 589,185.81 589.5,186.04 590,185.85 590.5,185.78 591,185.63 591.5,186.05 592,185.77 592.5,186.08 593,185.53 593.5,186.08 594,185.48 594.5,185.7 595,185.85 595.5,185.55 596,185.59 596.5,186 597,185.57 597.5,185.71 598,185.7 598.5,185.61 599,186.03 599.5,185.82 600,185.47 600.5,185.53 601,185.81 601.5,185.65 602,185.83 602.5,185.88 603,185.73 603.5,185.85 604,185.6 604.5,185.96 605,185.57 605.5,185.52 606,185.73 606.5,185.74 607,185.48 607.5,185.5 608,185.96 608.5,185.49 609,185.7 609.5,185.54 610,186.1 610.5,185.98 611,186.09 611.5,186.07 612,185.56 612.5,186.05 613,185.68 613.5,185.55 614,185.63 614.5,185.54 615,186.05 615.5,185.62 616,185.66 616.5,185.57 616.5,190.6 616,190.52 615.5,190.83 615,190.64 614.5,190.83 614,191.03 613.5,191.08 613,190.99 612.5,190.54 612,191.01 611.5,191.1 611,190.82 610.5,190.63 610,190.98 609.5,191.06 609,191.12 608.5,190.83 608,190.83 607.5,190.98 607,190.91 606.5,190.83 606,190.56 605.5,190.58 605,190.81 604.5,190.8 604,191 603.5,190.82 603,190.52 602.5,190.79 602,190.78 601.5,190.77 601,190.91 600.5,190.89 600,191.04 599.5,190.99 599,190.53 598.5,190.97 598,190.58 597.5,190.84 597,190.64 596.5,191.04 596,190.76 595.5,191.01 595,191.04 594.5,191.09 594,191.1 593.5,190.81 593,191.11 592.5,190.63 592,191.02 591.5,190.57 591,190.84 590.5,190.59 590,190.74 589.5,190.56 589,190.92 588.5,190.51 588,190.8 587.5,190.76 587,190.78 586.5,190.5 586,190.97 585.5,190.74 585,191.06 584.5,190.73 584,190.7 583.5,190.7 583,190.77 582.5,190.61 582,190.92 581.5,190.76 581,190.54 580.5,191.02 580,190.7 579.5,190.94 579,190.51 578.5,190.92 578,190.67 577.5,190.59 577,190.64 576.5,190.89 576,191.11 575.5,190.67 575,191.06 574.5,191.1 574,191.13 573.5,190.58 573,190.53 572.5,191.05 572,190.81 571.5,191.14 571,191.03 570.5,190.83 570,190.76 569.5,190.88 569,190.6 568.5,190.66 568,190.98 567.5,190.87 567,191.05 566.5,190.93 566,190.99 565.5,190.9 565,190.65 564.5,190.96 564,190.56 563.5,190.67 563,191.07 562.5,190.71 562,190.52 561.5,190.66 561,190.63 560.5,191.01 560,190.71 559.5,190.89 559,191.03 558.5,191.02 558,191.1 557.5,190.78 557,190.75 556.5,191.12 556,190.65 555.5,191.11 555,191.1 554.5,190.5 554,190.71 553.5,190.67 553,191.12 552.5,190.72 552,190.99 551.5,191.1 551,190.52 550.5,191 550,190.77 549.5,191.08 549,190.63 548.5,190.74 548,190.53 547.5,191.03 547,190.73 546.5,191.13 546,191.12 545.5,190.68 545,190.61 544.5,190.74 544,190.93 543.5,190.99 543,190.62 542.5,191.11 542,190.98 541.5,191.08 541,190.54 540.5,190.59 540,190.64 539.5,190.6 539,190.93 538.5,190.65 538,190.82 537.5,190.69 537,190.64 536.5,191.03 536,191.13 535.5,190.83 535,191.02 534.5,190.94 534,190.72 533.5,190.65 533,190.93 532.5,190.77 532,190.82 531.5,190.7 531,191.12 530.5,190.65 530,191.07 529.5,191.12 529,190.7 528.5,190.89 528,190.75 527.5,190.84 527,190.57 526.5,190.91 526,190.58 525.5,190.92 525,190.65 524.5,190.53 524,190.8 523.5,190.92 523,191.11 522.5,190.84 522,190.57 521.5,191.13 521,191.04 520.5,190.75 520,190.88 519.5,191.08 519,190.52 518.5,191.07 518,191.12 517.5,190.76 517,190.68" fill="#000"/>
<path d="M517,177 V194.5 M616.8,177 V193" stroke="#333" stroke-width="0.5" fill="none"/>
</g>
<!-- PANEL C -->
<g id="panelC">
<text x="11.6" y="276.8" font-size="15" font-weight="bold" text-anchor="start" fill="#111" style="font-family:'Liberation Sans',sans-serif;">C</text>
<g transform="translate(138.5,420.7) rotate(145.27)"><path d="M0,-6.5 L67.41,-6.5 A2,6.5 0 0 1 67.41,6.5 L0,6.5 A2,6.5 0 0 1 0,-6.5 Z" fill="#0070c0" stroke="#222" stroke-width="0.5"/><ellipse cx="0" cy="0" rx="2" ry="6.5" fill="#6fb4ec" stroke="#222" stroke-width="0.5"/></g>
<g transform="translate(32.6,301.2) rotate(67.72)"><path d="M0,-6.5 L152.7,-6.5 A2,6.5 0 0 1 152.7,6.5 L0,6.5 A2,6.5 0 0 1 0,-6.5 Z" fill="#00b050" stroke="#222" stroke-width="0.5"/><ellipse cx="0" cy="0" rx="2" ry="6.5" fill="#6fdca0" stroke="#222" stroke-width="0.5"/></g>
<g transform="translate(69.7,285) rotate(76.68)"><path d="M0,-6.5 L154.14,-6.5 A2,6.5 0 0 1 154.14,6.5 L0,6.5 A2,6.5 0 0 1 0,-6.5 Z" fill="#00b050" stroke="#222" stroke-width="0.5"/><ellipse cx="0" cy="0" rx="2" ry="6.5" fill="#6fdca0" stroke="#222" stroke-width="0.5"/></g>
<path d="M90.5,444 C96,448 104,448 106,442 C107.5,439 108,437 108,435" fill="none" stroke="#00b050" stroke-width="1.2"/>
<path d="M81,460 C78,468 79,476 84,477.5 C88,478.5 94,477 98,475" fill="none" stroke="#7aa7d6" stroke-width="0.7"/>
<g transform="translate(100.6,475.7) rotate(-36.78)"><path d="M0,-6.5 L67.3,-6.5 A2,6.5 0 0 1 67.3,6.5 L0,6.5 A2,6.5 0 0 1 0,-6.5 Z" fill="#0070c0" stroke="#222" stroke-width="0.5"/><ellipse cx="0" cy="0" rx="2" ry="6.5" fill="#6fb4ec" stroke="#222" stroke-width="0.5"/></g>
<g transform="translate(197.6,419.4) rotate(39.96)"><path d="M0,-6.5 L68.36,-6.5 A2,6.5 0 0 1 68.36,6.5 L0,6.5 A2,6.5 0 0 1 0,-6.5 Z" fill="#ffc000" stroke="#222" stroke-width="0.5"/><ellipse cx="0" cy="0" rx="2" ry="6.5" fill="#ffe27a" stroke="#222" stroke-width="0.5"/></g>
<g transform="translate(252.5,276.9) rotate(102.09)"><path d="M0,-6.5 L154.22,-6.5 A2,6.5 0 0 1 154.22,6.5 L0,6.5 A2,6.5 0 0 1 0,-6.5 Z" fill="#ea43b8" stroke="#222" stroke-width="0.5"/><ellipse cx="0" cy="0" rx="2" ry="6.5" fill="#f6a6de" stroke="#222" stroke-width="0.5"/></g>
<g transform="translate(289.4,291.4) rotate(110.72)"><path d="M0,-6.5 L155.14,-6.5 A2,6.5 0 0 1 155.14,6.5 L0,6.5 A2,6.5 0 0 1 0,-6.5 Z" fill="#ea43b8" stroke="#222" stroke-width="0.5"/><ellipse cx="0" cy="0" rx="2" ry="6.5" fill="#f6a6de" stroke="#222" stroke-width="0.5"/></g>
<path d="M216.5,428 C216,436 219,441 222,440.5 C226,440 231,438.5 234,437.5" fill="none" stroke="#ea43b8" stroke-width="1.2"/>
<path d="M250.5,465 C252,472 251.5,480 247,481.5 C243,482.5 237,481 233,479" fill="none" stroke="#ffd34d" stroke-width="0.7"/>
<g transform="translate(230.3,478.5) rotate(-138.77)"><path d="M0,-6.5 L68.74,-6.5 A2,6.5 0 0 1 68.74,6.5 L0,6.5 A2,6.5 0 0 1 0,-6.5 Z" fill="#ffc000" stroke="#222" stroke-width="0.5"/><ellipse cx="0" cy="0" rx="2" ry="6.5" fill="#ffe27a" stroke="#222" stroke-width="0.5"/></g>
<polygon points="118.77,456.43 112.65,456.63 114.57,459.25 110.68,458.22 111.45,463.2 107.86,458.89 105.44,462.03 104.94,458.47 99.51,461.25 102.71,457.07 98.78,456.89 101.76,455.05 95.1,453.01 102.35,452.97 99.92,450.02 104.32,451.38 103.84,447.03 107.14,450.71 109.42,448.05 110.06,451.13 115.57,448.29 112.29,452.53 117.53,452.4 113.24,454.55" fill="#f6b183" stroke="#ff5a4a" stroke-width="0.7" stroke-linejoin="miter"/>
<polygon points="224.89,452.13 218.96,451.03 219.71,453.94 216.42,452.13 215.09,457.05 213.44,452.18 209.84,454.68 210.83,451.17 204.49,452.68 209.28,449.35 205.6,448.35 209.21,447.23 203.7,443.88 210.64,445.37 209.53,442.04 213.18,444.27 214.53,440 216.16,444.22 219.43,442.16 218.77,445.23 225.21,443.68 220.32,447.05 225.38,448.02 220.39,449.17" fill="#f6b183" stroke="#ff5a4a" stroke-width="0.7" stroke-linejoin="miter"/>
<g transform="translate(99.2,296.5) rotate(60.25)"><path d="M0,-6.5 L154.35,-6.5 A2,6.5 0 0 1 154.35,6.5 L0,6.5 A2,6.5 0 0 1 0,-6.5 Z" fill="#ffc000" stroke="#222" stroke-width="0.5"/><ellipse cx="0" cy="0" rx="2" ry="6.5" fill="#ffe27a" stroke="#222" stroke-width="0.5"/></g>
<g transform="translate(225.4,293.4) rotate(116.3)"><path d="M0,-6.5 L153.49,-6.5 A2,6.5 0 0 1 153.49,6.5 L0,6.5 A2,6.5 0 0 1 0,-6.5 Z" fill="#0070c0" stroke="#222" stroke-width="0.5"/><ellipse cx="0" cy="0" rx="2" ry="6.5" fill="#6fb4ec" stroke="#222" stroke-width="0.5"/></g>
<text x="56" y="359.6" font-size="10" font-weight="bold" text-anchor="middle" fill="#111" style="font-family:'Liberation Sans',sans-serif;font-style:italic" stroke="#111" stroke-width="0.2">S4'</text>
<text x="85.3" y="349.2" font-size="10" font-weight="bold" text-anchor="middle" fill="#111" style="font-family:'Liberation Sans',sans-serif;font-style:italic" stroke="#111" stroke-width="0.2">S5'</text>
<text x="126.6" y="349.6" font-size="10" font-weight="bold" text-anchor="middle" fill="#111" style="font-family:'Liberation Sans',sans-serif;font-style:italic" stroke="#111" stroke-width="0.2">S6</text>
<text x="198.6" y="350.8" font-size="10" font-weight="bold" text-anchor="middle" fill="#111" style="font-family:'Liberation Sans',sans-serif;" stroke="#111" stroke-width="0.2">S6</text>
<text x="235.5" y="350.8" font-size="10" font-weight="bold" text-anchor="middle" fill="#111" style="font-family:'Liberation Sans',sans-serif;" stroke="#111" stroke-width="0.2">S5'</text>
<text x="266" y="355.8" font-size="10" font-weight="bold" text-anchor="middle" fill="#111" style="font-family:'Liberation Sans',sans-serif;" stroke="#111" stroke-width="0.2">S4'</text>
<text x="164.6" y="305.5" font-size="10" font-weight="bold" text-anchor="middle" fill="#111" style="font-family:'Liberation Sans',sans-serif;">Closed</text>
<text x="164.6" y="317" font-size="10" font-weight="bold" text-anchor="middle" fill="#111" style="font-family:'Liberation Sans',sans-serif;">gate</text>
<path d="M164.6,323 V368.5 M160.2,368.5 H169.5" stroke="#111" stroke-width="0.9" fill="none"/>
<text x="166" y="471.8" font-size="10" font-weight="bold" text-anchor="middle" fill="#111" style="font-family:'Liberation Sans',sans-serif;">C-linker</text>
<path d="M134.8,454.5 L148.2,465.5 M187.8,470.2 L200.8,459" stroke="#111" stroke-width="0.7" fill="none"/>
<text x="339" y="367.3" font-size="10" font-weight="bold" text-anchor="middle" fill="#111" style="font-family:'Liberation Sans',sans-serif;">Hyper-</text>
<text x="339" y="379.3" font-size="10" font-weight="bold" text-anchor="middle" fill="#111" style="font-family:'Liberation Sans',sans-serif;">polarization</text>
<path d="M295.7,387.6 H374.5 V385 L391.8,390.3 L374.5,395.6 V393.2 H295.7 Z" fill="#000"/>
<g transform="translate(522.5,407) rotate(58.66)"><path d="M0,-6.5 L67.67,-6.5 A2,6.5 0 0 1 67.67,6.5 L0,6.5 A2,6.5 0 0 1 0,-6.5 Z" fill="#ffc000" stroke="#222" stroke-width="0.5"/><ellipse cx="0" cy="0" rx="2" ry="6.5" fill="#ffe27a" stroke="#222" stroke-width="0.5"/></g>
<g transform="translate(473.9,262.8) rotate(81.35)"><path d="M0,-6.5 L156.98,-6.5 A2,6.5 0 0 1 156.98,6.5 L0,6.5 A2,6.5 0 0 1 0,-6.5 Z" fill="#ffc000" stroke="#222" stroke-width="0.5"/><ellipse cx="0" cy="0" rx="2" ry="6.5" fill="#ffe27a" stroke="#222" stroke-width="0.5"/></g>
<g transform="translate(543.4,471) rotate(-128.46)"><path d="M0,-6.5 L65.77,-6.5 A2,6.5 0 0 1 65.77,6.5 L0,6.5 A2,6.5 0 0 1 0,-6.5 Z" fill="#ffc000" stroke="#222" stroke-width="0.5"/><ellipse cx="0" cy="0" rx="2" ry="6.5" fill="#ffe27a" stroke="#222" stroke-width="0.5"/></g>
<g transform="translate(507,403.2) rotate(118.19)"><path d="M0,-6.5 L66.26,-6.5 A2,6.5 0 0 1 66.26,6.5 L0,6.5 A2,6.5 0 0 1 0,-6.5 Z" fill="#0070c0" stroke="#222" stroke-width="0.5"/><ellipse cx="0" cy="0" rx="2" ry="6.5" fill="#6fb4ec" stroke="#222" stroke-width="0.5"/></g>
<g transform="translate(403.2,310.8) rotate(58.57)"><path d="M0,-6.5 L153.05,-6.5 A2,6.5 0 0 1 153.05,6.5 L0,6.5 A2,6.5 0 0 1 0,-6.5 Z" fill="#00b050" stroke="#222" stroke-width="0.5"/><ellipse cx="0" cy="0" rx="2" ry="6.5" fill="#6fdca0" stroke="#222" stroke-width="0.5"/></g>
<g transform="translate(443.4,280) rotate(73.46)"><path d="M0,-6.5 L152.41,-6.5 A2,6.5 0 0 1 152.41,6.5 L0,6.5 A2,6.5 0 0 1 0,-6.5 Z" fill="#00b050" stroke="#222" stroke-width="0.5"/><ellipse cx="0" cy="0" rx="2" ry="6.5" fill="#6fdca0" stroke="#222" stroke-width="0.5"/></g>
<path d="M483.5,442.5 C488,445.5 492,445.5 495,444 M489.5,427.5 C491,433 493,440 495,444" fill="none" stroke="#00b050" stroke-width="1.2"/>
<path d="M474.5,463 C473,470 476,477 481,478 C485,478.5 489,476 492,473" fill="none" stroke="#7aa7d6" stroke-width="0.7"/>
<g transform="translate(555.7,259.1) rotate(98.78)"><path d="M0,-6.5 L153.3,-6.5 A2,6.5 0 0 1 153.3,6.5 L0,6.5 A2,6.5 0 0 1 0,-6.5 Z" fill="#0070c0" stroke="#222" stroke-width="0.5"/><ellipse cx="0" cy="0" rx="2" ry="6.5" fill="#6fb4ec" stroke="#222" stroke-width="0.5"/></g>
<g transform="translate(494.2,471) rotate(-57.32)"><path d="M0,-6.5 L65.94,-6.5 A2,6.5 0 0 1 65.94,6.5 L0,6.5 A2,6.5 0 0 1 0,-6.5 Z" fill="#0070c0" stroke="#222" stroke-width="0.5"/><ellipse cx="0" cy="0" rx="2" ry="6.5" fill="#6fb4ec" stroke="#222" stroke-width="0.5"/></g>
<g transform="translate(585.5,277.8) rotate(106.46)"><path d="M0,-6.5 L154.54,-6.5 A2,6.5 0 0 1 154.54,6.5 L0,6.5 A2,6.5 0 0 1 0,-6.5 Z" fill="#ea43b8" stroke="#222" stroke-width="0.5"/><ellipse cx="0" cy="0" rx="2" ry="6.5" fill="#f6a6de" stroke="#222" stroke-width="0.5"/></g>
<g transform="translate(624.9,311) rotate(120.25)"><path d="M0,-6.5 L154.65,-6.5 A2,6.5 0 0 1 154.65,6.5 L0,6.5 A2,6.5 0 0 1 0,-6.5 Z" fill="#ea43b8" stroke="#222" stroke-width="0.5"/><ellipse cx="0" cy="0" rx="2" ry="6.5" fill="#f6a6de" stroke="#222" stroke-width="0.5"/></g>
<path d="M538,427 C536,434 534.5,440 534.5,444 C537,445.5 541,445.5 545,444.5" fill="none" stroke="#ea43b8" stroke-width="1.2"/>
<path d="M558.5,466 C561,472 559,476 554,476.5 C551,476.5 548,475 546,473" fill="none" stroke="#ffd34d" stroke-width="0.7"/>
<polygon points="508.09,448.99 502.5,449.17 504.25,451.57 500.7,450.63 501.41,455.18 498.12,451.24 495.92,454.12 495.46,450.86 490.5,453.4 493.42,449.57 489.84,449.41 492.56,447.73 486.48,445.86 493.1,445.83 490.88,443.13 494.9,444.37 494.46,440.39 497.48,443.76 499.55,441.33 500.14,444.14 505.17,441.54 502.18,445.43 506.96,445.31 503.04,447.27" fill="#f6b183" stroke="#ff5a4a" stroke-width="0.7" stroke-linejoin="miter"/>
<polygon points="544.89,453.84 538.96,452.76 539.71,455.6 536.42,453.84 535.09,458.64 533.44,453.89 529.84,456.32 530.83,452.89 524.49,454.37 529.28,451.13 525.6,450.15 529.21,449.06 523.7,445.78 530.64,447.24 529.53,443.99 533.18,446.16 534.53,442 536.16,446.11 539.43,444.1 538.77,447.11 545.21,445.59 540.32,448.87 545.38,449.83 540.39,450.94" fill="#f6b183" stroke="#ff5a4a" stroke-width="0.7" stroke-linejoin="miter"/>
<g transform="translate(383.5,279) rotate(58.57)"><path d="M0,-6.5 L153.05,-6.5 A2,6.5 0 0 1 153.05,6.5 L0,6.5 A2,6.5 0 0 1 0,-6.5 Z" fill="none" stroke="#222" stroke-width="0.65" stroke-dasharray="2.2 1.6"/><ellipse cx="0" cy="0" rx="2" ry="6.5" fill="none" stroke="#222" stroke-width="0.65" stroke-dasharray="2.2 1.6"/></g>
<g transform="translate(643.8,280.8) rotate(120.25)"><path d="M0,-6.5 L154.65,-6.5 A2,6.5 0 0 1 154.65,6.5 L0,6.5 A2,6.5 0 0 1 0,-6.5 Z" fill="none" stroke="#222" stroke-width="0.65" stroke-dasharray="2.2 1.6"/><ellipse cx="0" cy="0" rx="2" ry="6.5" fill="none" stroke="#222" stroke-width="0.65" stroke-dasharray="2.2 1.6"/></g>
<g transform="translate(454.2,261) rotate(60.8)"><path d="M0,-6.5 L152.93,-6.5 A2,6.5 0 0 1 152.93,6.5 L0,6.5 A2,6.5 0 0 1 0,-6.5 Z" fill="none" stroke="#222" stroke-width="0.65" stroke-dasharray="2.2 1.6"/><ellipse cx="0" cy="0" rx="2" ry="6.5" fill="none" stroke="#222" stroke-width="0.65" stroke-dasharray="2.2 1.6"/></g>
<g transform="translate(571.2,261) rotate(116.55)"><path d="M0,-6.5 L152.59,-6.5 A2,6.5 0 0 1 152.59,6.5 L0,6.5 A2,6.5 0 0 1 0,-6.5 Z" fill="none" stroke="#222" stroke-width="0.65" stroke-dasharray="2.2 1.6"/><ellipse cx="0" cy="0" rx="2" ry="6.5" fill="none" stroke="#222" stroke-width="0.65" stroke-dasharray="2.2 1.6"/></g>
<polygon points="398.51,341.65 418.38,368.58 416.44,370 423.7,373.1 422.88,365.25 420.95,366.68 401.09,339.75" fill="#ff0000"/>
<polygon points="616.46,350.73 598.84,377.81 596.83,376.5 596.2,384.8 603.53,380.86 601.52,379.55 619.14,352.47" fill="#ff0000"/>
<text x="422.3" y="345" font-size="10" font-weight="bold" text-anchor="middle" fill="#111" style="font-family:'Liberation Sans',sans-serif;font-style:italic" stroke="#111" stroke-width="0.2">S4'</text>
<text x="458.1" y="336.8" font-size="10" font-weight="bold" text-anchor="middle" fill="#111" style="font-family:'Liberation Sans',sans-serif;font-style:italic" stroke="#111" stroke-width="0.2">S5'</text>
<text x="485" y="336.5" font-size="10" font-weight="bold" text-anchor="middle" fill="#111" style="font-family:'Liberation Sans',sans-serif;font-style:italic" stroke="#111" stroke-width="0.2">S6</text>
<text x="544.2" y="337.8" font-size="10" font-weight="bold" text-anchor="middle" fill="#111" style="font-family:'Liberation Sans',sans-serif;" stroke="#111" stroke-width="0.2">S6</text>
<text x="570" y="341.2" font-size="10" font-weight="bold" text-anchor="middle" fill="#111" style="font-family:'Liberation Sans',sans-serif;" stroke="#111" stroke-width="0.2">S5'</text>
<text x="606.3" y="347.5" font-size="10" font-weight="bold" text-anchor="middle" fill="#111" style="font-family:'Liberation Sans',sans-serif;" stroke="#111" stroke-width="0.2">S4'</text>
<text x="514" y="305.5" font-size="10" font-weight="bold" text-anchor="middle" fill="#111" style="font-family:'Liberation Sans',sans-serif;">Open</text>
<text x="514" y="317.8" font-size="10" font-weight="bold" text-anchor="middle" fill="#111" style="font-family:'Liberation Sans',sans-serif;">gate</text>
<path d="M513.5,321.5 V364" stroke="#111" stroke-width="0.8" fill="none"/>
<path d="M513.5,367.5 L511.8,362.5 H515.2 Z" fill="#111"/>
<text x="518.8" y="481.8" font-size="10" font-weight="bold" text-anchor="middle" fill="#111" style="font-family:'Liberation Sans',sans-serif;">C-linker</text>
</g>
</svg></body></html>
